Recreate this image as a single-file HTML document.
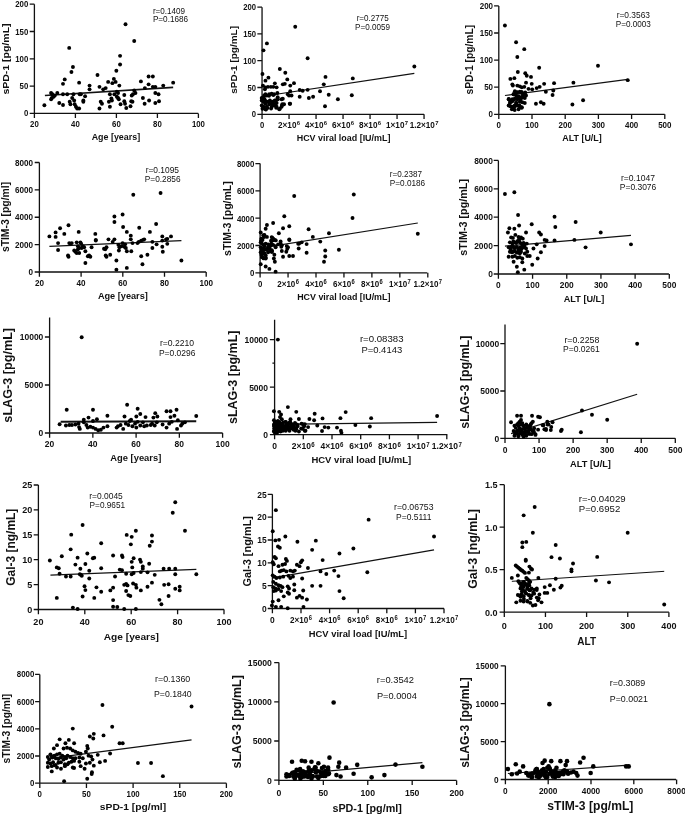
<!DOCTYPE html><html><head><meta charset="utf-8"><style>html,body{margin:0;padding:0;background:#fff;width:685px;height:815px;overflow:hidden}svg{display:block;will-change:transform;filter:blur(0.3px)}text{font-family:"Liberation Sans", sans-serif}.t{font-weight:bold;fill:#111}.s{fill:#111}</style></head><body>
<svg width="685" height="815" viewBox="0 0 685 815">
<rect width="685" height="815" fill="#fff"/>
<g><path d="M34.4 4.2V113.4H198.3" fill="none" stroke="#111" stroke-width="1.3"/><path d="M34.4 113.4v4.7M75.4 113.4v4.7M116.4 113.4v4.7M157.4 113.4v4.7M198.4 113.4v4.7M34.4 113.4h-4.7M34.4 86.1h-4.7M34.4 58.8h-4.7M34.4 31.5h-4.7M34.4 4.2h-4.7" stroke="#111" stroke-width="1.3"/><text class="t" transform="translate(34.4 127) scale(0.93 1)" font-size="8.4" text-anchor="middle">20</text><text class="t" transform="translate(75.4 127) scale(0.93 1)" font-size="8.4" text-anchor="middle">40</text><text class="t" transform="translate(116.4 127) scale(0.93 1)" font-size="8.4" text-anchor="middle">60</text><text class="t" transform="translate(157.4 127) scale(0.93 1)" font-size="8.4" text-anchor="middle">80</text><text class="t" transform="translate(198.4 127) scale(0.93 1)" font-size="8.4" text-anchor="middle">100</text><text class="t" transform="translate(28.25 116.41) scale(0.93 1)" font-size="8.4" text-anchor="end">0</text><text class="t" transform="translate(28.25 89.11) scale(0.93 1)" font-size="8.4" text-anchor="end">50</text><text class="t" transform="translate(28.25 61.81) scale(0.93 1)" font-size="8.4" text-anchor="end">100</text><text class="t" transform="translate(28.25 34.51) scale(0.93 1)" font-size="8.4" text-anchor="end">150</text><text class="t" transform="translate(28.25 7.21) scale(0.93 1)" font-size="8.4" text-anchor="end">200</text><text class="t" x="115.9" y="140.1" font-size="9.3" text-anchor="middle" textLength="48.4" lengthAdjust="spacingAndGlyphs">Age [years]</text><text class="t" transform="translate(8.95 59) rotate(-90)" x="0" y="0" font-size="9.6" text-anchor="middle" textLength="71.2" lengthAdjust="spacingAndGlyphs">sPD-1 [pg/mL]</text><text class="s" x="152.9" y="13.5" font-size="8.75" textLength="32.1" lengthAdjust="spacingAndGlyphs">r=0.1409</text><text class="s" x="152.9" y="22.3" font-size="8.75" textLength="35.2" lengthAdjust="spacingAndGlyphs">P=0.1686</text><line x1="44.89" y1="95.53" x2="173.18" y2="87.34" stroke="#111" stroke-width="1.6"/><g fill="#000"><circle cx="44.39" cy="105.21" r="1.95"/><circle cx="51.09" cy="93.05" r="1.95"/><circle cx="52.33" cy="94.29" r="1.95"/><circle cx="53.57" cy="96.77" r="1.95"/><circle cx="51.09" cy="99.26" r="1.95"/><circle cx="54.81" cy="95.53" r="1.95"/><circle cx="51.84" cy="98.01" r="1.95"/><circle cx="57.3" cy="93.05" r="1.95"/><circle cx="59.28" cy="102.98" r="1.95"/><circle cx="63" cy="104.96" r="1.95"/><circle cx="63" cy="94.29" r="1.95"/><circle cx="67.22" cy="94.29" r="1.95"/><circle cx="63" cy="83.87" r="1.95"/><circle cx="64.74" cy="79.4" r="1.95"/><circle cx="69.21" cy="47.89" r="1.95"/><circle cx="71.44" cy="71.96" r="1.95"/><circle cx="72.93" cy="67" r="1.95"/><circle cx="69.7" cy="101.74" r="1.95"/><circle cx="70.45" cy="104.22" r="1.95"/><circle cx="72.18" cy="98.01" r="1.95"/><circle cx="73.42" cy="94.29" r="1.95"/><circle cx="74.17" cy="100.5" r="1.95"/><circle cx="74.67" cy="104.22" r="1.95"/><circle cx="75.91" cy="106.7" r="1.95"/><circle cx="77.15" cy="108.44" r="1.95"/><circle cx="79.13" cy="108.44" r="1.95"/><circle cx="79.63" cy="94.29" r="1.95"/><circle cx="79.13" cy="82.63" r="1.95"/><circle cx="80.87" cy="94.29" r="1.95"/><circle cx="83.35" cy="100.5" r="1.95"/><circle cx="83.35" cy="101.74" r="1.95"/><circle cx="85.09" cy="96.28" r="1.95"/><circle cx="89.55" cy="85.61" r="1.95"/><circle cx="89.55" cy="89.33" r="1.95"/><circle cx="97.49" cy="74.94" r="1.95"/><circle cx="99.48" cy="86.85" r="1.95"/><circle cx="99.48" cy="108.44" r="1.95"/><circle cx="100.72" cy="101.74" r="1.95"/><circle cx="101.96" cy="103.72" r="1.95"/><circle cx="103.2" cy="89.33" r="1.95"/><circle cx="105.68" cy="88.09" r="1.95"/><circle cx="108.16" cy="81.89" r="1.95"/><circle cx="108.91" cy="101.74" r="1.95"/><circle cx="109.9" cy="106.7" r="1.95"/><circle cx="109.9" cy="94.29" r="1.95"/><circle cx="111.39" cy="98.51" r="1.95"/><circle cx="111.89" cy="100.5" r="1.95"/><circle cx="112.38" cy="83.13" r="1.95"/><circle cx="113.87" cy="78.91" r="1.95"/><circle cx="114.37" cy="94.29" r="1.95"/><circle cx="115.61" cy="81.89" r="1.95"/><circle cx="116.35" cy="70.72" r="1.95"/><circle cx="116.85" cy="91.81" r="1.95"/><circle cx="118.09" cy="93.05" r="1.95"/><circle cx="116.85" cy="96.77" r="1.95"/><circle cx="118.09" cy="98.01" r="1.95"/><circle cx="118.83" cy="99.26" r="1.95"/><circle cx="119.33" cy="85.61" r="1.95"/><circle cx="120.07" cy="55.83" r="1.95"/><circle cx="120.07" cy="64.52" r="1.95"/><circle cx="120.57" cy="104.22" r="1.95"/><circle cx="125.53" cy="24.32" r="1.95"/><circle cx="124.29" cy="95.04" r="1.95"/><circle cx="124.29" cy="101.24" r="1.95"/><circle cx="125.04" cy="103.72" r="1.95"/><circle cx="126.28" cy="107.94" r="1.95"/><circle cx="130.5" cy="106.2" r="1.95"/><circle cx="131.24" cy="101.24" r="1.95"/><circle cx="131.74" cy="95.53" r="1.95"/><circle cx="132.48" cy="101.74" r="1.95"/><circle cx="132.98" cy="94.29" r="1.95"/><circle cx="134.22" cy="90.57" r="1.95"/><circle cx="134.22" cy="40.94" r="1.95"/><circle cx="135.46" cy="93.05" r="1.95"/><circle cx="140.92" cy="81.39" r="1.95"/><circle cx="142.9" cy="98.01" r="1.95"/><circle cx="144.64" cy="103.72" r="1.95"/><circle cx="144.89" cy="88.09" r="1.95"/><circle cx="148.61" cy="76.43" r="1.95"/><circle cx="149.11" cy="100.5" r="1.95"/><circle cx="148.61" cy="84.37" r="1.95"/><circle cx="152.83" cy="76.43" r="1.95"/><circle cx="152.83" cy="86.85" r="1.95"/><circle cx="155.31" cy="93.05" r="1.95"/><circle cx="155.31" cy="102.98" r="1.95"/><circle cx="155.31" cy="86.85" r="1.95"/><circle cx="158.54" cy="94.29" r="1.95"/><circle cx="159.03" cy="101.24" r="1.95"/><circle cx="163.25" cy="85.61" r="1.95"/><circle cx="173.18" cy="82.63" r="1.95"/></g></g>
<g><path d="M262.05 7.2V114.3H424.05" fill="none" stroke="#111" stroke-width="1.3"/><path d="M262.05 114.3v4.7M289.05 114.3v4.7M316.05 114.3v4.7M343.05 114.3v4.7M370.05 114.3v4.7M397.05 114.3v4.7M424.05 114.3v4.7M262.05 114.3h-4.7M262.05 87.5h-4.7M262.05 60.7h-4.7M262.05 33.9h-4.7M262.05 7.1h-4.7" stroke="#111" stroke-width="1.3"/><text class="t" transform="translate(262.05 127.7) scale(0.89 1)" font-size="8.61" text-anchor="middle">0</text><text class="t" transform="translate(289.05 127.7) scale(0.95 1)" font-size="8.61" text-anchor="middle">2×10<tspan font-size="6.2" dx="0.4" dy="-2.6">6</tspan></text><text class="t" transform="translate(316.05 127.7) scale(0.95 1)" font-size="8.61" text-anchor="middle">4×10<tspan font-size="6.2" dx="0.4" dy="-2.6">6</tspan></text><text class="t" transform="translate(343.05 127.7) scale(0.95 1)" font-size="8.61" text-anchor="middle">6×10<tspan font-size="6.2" dx="0.4" dy="-2.6">6</tspan></text><text class="t" transform="translate(370.05 127.7) scale(0.95 1)" font-size="8.61" text-anchor="middle">8×10<tspan font-size="6.2" dx="0.4" dy="-2.6">6</tspan></text><text class="t" transform="translate(397.05 127.7) scale(0.95 1)" font-size="8.61" text-anchor="middle">1×10<tspan font-size="6.2" dx="0.4" dy="-2.6">7</tspan></text><text class="t" transform="translate(424.05 127.7) scale(0.95 1)" font-size="8.61" text-anchor="middle">1.2×10<tspan font-size="6.2" dx="0.4" dy="-2.6">7</tspan></text><text class="t" transform="translate(256.05 117.38) scale(0.89 1)" font-size="8.61" text-anchor="end">0</text><text class="t" transform="translate(256.05 90.58) scale(0.89 1)" font-size="8.61" text-anchor="end">50</text><text class="t" transform="translate(256.05 63.78) scale(0.89 1)" font-size="8.61" text-anchor="end">100</text><text class="t" transform="translate(256.05 36.98) scale(0.89 1)" font-size="8.61" text-anchor="end">150</text><text class="t" transform="translate(256.05 10.18) scale(0.89 1)" font-size="8.61" text-anchor="end">200</text><text class="t" x="343.55" y="141" font-size="8.7" text-anchor="middle" textLength="93.7" lengthAdjust="spacingAndGlyphs">HCV viral load [IU/mL]</text><text class="t" transform="translate(237 59.85) rotate(-90)" x="0" y="0" font-size="9.75" text-anchor="middle" textLength="67.7" lengthAdjust="spacingAndGlyphs">sPD-1 [pg/mL]</text><text class="s" x="356.7" y="21" font-size="8.5" textLength="32" lengthAdjust="spacingAndGlyphs">r=0.2775</text><text class="s" x="355.1" y="29.8" font-size="8.5" textLength="34.9" lengthAdjust="spacingAndGlyphs">P=0.0059</text><line x1="261.47" y1="96.53" x2="414.33" y2="73.45" stroke="#111" stroke-width="1.2"/><g fill="#000"><circle cx="295.22" cy="26.8" r="1.95"/><circle cx="266.93" cy="43.42" r="1.95"/><circle cx="263.46" cy="50.37" r="1.95"/><circle cx="307.63" cy="58.31" r="1.95"/><circle cx="414.33" cy="66.5" r="1.95"/><circle cx="279.84" cy="68.98" r="1.95"/><circle cx="285.3" cy="72.7" r="1.95"/><circle cx="262.47" cy="73.95" r="1.95"/><circle cx="268.42" cy="77.67" r="1.95"/><circle cx="265.44" cy="80.65" r="1.95"/><circle cx="287.28" cy="79.4" r="1.95"/><circle cx="325.49" cy="76.92" r="1.95"/><circle cx="352.79" cy="78.41" r="1.95"/><circle cx="293.98" cy="83.13" r="1.95"/><circle cx="282.81" cy="84.37" r="1.95"/><circle cx="284.8" cy="83.87" r="1.95"/><circle cx="290.26" cy="85.61" r="1.95"/><circle cx="274.87" cy="83.37" r="1.95"/><circle cx="262.96" cy="85.61" r="1.95"/><circle cx="265.44" cy="87.34" r="1.95"/><circle cx="267.93" cy="86.85" r="1.95"/><circle cx="270.9" cy="86.85" r="1.95"/><circle cx="273.38" cy="86.85" r="1.95"/><circle cx="276.61" cy="87.34" r="1.95"/><circle cx="323.76" cy="84.37" r="1.95"/><circle cx="299.69" cy="90.07" r="1.95"/><circle cx="302.67" cy="90.82" r="1.95"/><circle cx="307.63" cy="89.83" r="1.95"/><circle cx="320.03" cy="91.32" r="1.95"/><circle cx="290.26" cy="91.32" r="1.95"/><circle cx="287.78" cy="94.29" r="1.95"/><circle cx="289.02" cy="95.53" r="1.95"/><circle cx="291.5" cy="95.53" r="1.95"/><circle cx="328.72" cy="94.79" r="1.95"/><circle cx="351.8" cy="95.29" r="1.95"/><circle cx="299.69" cy="96.77" r="1.95"/><circle cx="308.87" cy="98.01" r="1.95"/><circle cx="313.09" cy="96.77" r="1.95"/><circle cx="337.9" cy="99.26" r="1.95"/><circle cx="325" cy="106.2" r="1.95"/><circle cx="261.72" cy="98.01" r="1.95"/><circle cx="262.96" cy="99.26" r="1.95"/><circle cx="264.2" cy="95.53" r="1.95"/><circle cx="265.44" cy="94.29" r="1.95"/><circle cx="266.68" cy="95.53" r="1.95"/><circle cx="269.17" cy="94.29" r="1.95"/><circle cx="271.65" cy="93.8" r="1.95"/><circle cx="274.13" cy="94.29" r="1.95"/><circle cx="277.35" cy="93.05" r="1.95"/><circle cx="261.72" cy="100.5" r="1.95"/><circle cx="263.46" cy="101.74" r="1.95"/><circle cx="265.44" cy="102.98" r="1.95"/><circle cx="267.93" cy="101.74" r="1.95"/><circle cx="269.91" cy="100.5" r="1.95"/><circle cx="272.39" cy="101.74" r="1.95"/><circle cx="274.87" cy="100.5" r="1.95"/><circle cx="276.61" cy="102.98" r="1.95"/><circle cx="277.85" cy="99.26" r="1.95"/><circle cx="281.57" cy="99.26" r="1.95"/><circle cx="282.32" cy="104.22" r="1.95"/><circle cx="284.05" cy="104.22" r="1.95"/><circle cx="289.76" cy="103.72" r="1.95"/><circle cx="261.72" cy="105.46" r="1.95"/><circle cx="263.46" cy="106.7" r="1.95"/><circle cx="265.44" cy="109.18" r="1.95"/><circle cx="267.43" cy="107.94" r="1.95"/><circle cx="271.65" cy="106.7" r="1.95"/><circle cx="274.13" cy="105.46" r="1.95"/><circle cx="276.61" cy="106.7" r="1.95"/><circle cx="279.84" cy="108.68" r="1.95"/><circle cx="281.57" cy="106.7" r="1.95"/><circle cx="262.47" cy="108.68" r="1.95"/><circle cx="269.17" cy="104.22" r="1.95"/><circle cx="264.9" cy="89.2" r="1.95"/><circle cx="263.8" cy="98" r="1.95"/><circle cx="264.6" cy="99.4" r="1.95"/><circle cx="265.3" cy="100.9" r="1.95"/><circle cx="269" cy="95.8" r="1.95"/><circle cx="273.3" cy="95" r="1.95"/><circle cx="274.8" cy="100.9" r="1.95"/><circle cx="276.2" cy="100.1" r="1.95"/><circle cx="277.7" cy="97.2" r="1.95"/><circle cx="269.7" cy="103.8" r="1.95"/><circle cx="272.6" cy="103.8" r="1.95"/><circle cx="275.5" cy="103.8" r="1.95"/><circle cx="265.3" cy="103.8" r="1.95"/><circle cx="266.8" cy="106.7" r="1.95"/><circle cx="266" cy="109.6" r="1.95"/><circle cx="271.1" cy="108.5" r="1.95"/><circle cx="276.2" cy="107.8" r="1.95"/><circle cx="279.2" cy="109.3" r="1.95"/><circle cx="282.8" cy="98.7" r="1.95"/><circle cx="290.1" cy="103.8" r="1.95"/><circle cx="282.1" cy="105.3" r="1.95"/></g></g>
<g><path d="M498.8 5.9V114.3H664.7" fill="none" stroke="#111" stroke-width="1.3"/><path d="M498.8 114.3v4.7M532 114.3v4.7M565.2 114.3v4.7M598.4 114.3v4.7M631.6 114.3v4.7M664.8 114.3v4.7M498.8 114.3h-4.7M498.8 87.2h-4.7M498.8 60.1h-4.7M498.8 33h-4.7M498.8 5.9h-4.7" stroke="#111" stroke-width="1.3"/><text class="t" transform="translate(498.8 127.8) scale(0.95 1)" font-size="8.4" text-anchor="middle">0</text><text class="t" transform="translate(532 127.8) scale(0.95 1)" font-size="8.4" text-anchor="middle">100</text><text class="t" transform="translate(565.2 127.8) scale(0.95 1)" font-size="8.4" text-anchor="middle">200</text><text class="t" transform="translate(598.4 127.8) scale(0.95 1)" font-size="8.4" text-anchor="middle">300</text><text class="t" transform="translate(631.6 127.8) scale(0.95 1)" font-size="8.4" text-anchor="middle">400</text><text class="t" transform="translate(664.8 127.8) scale(0.95 1)" font-size="8.4" text-anchor="middle">500</text><text class="t" transform="translate(493.05 117.31) scale(0.95 1)" font-size="8.4" text-anchor="end">0</text><text class="t" transform="translate(493.05 90.21) scale(0.95 1)" font-size="8.4" text-anchor="end">50</text><text class="t" transform="translate(493.05 63.11) scale(0.95 1)" font-size="8.4" text-anchor="end">100</text><text class="t" transform="translate(493.05 36.01) scale(0.95 1)" font-size="8.4" text-anchor="end">150</text><text class="t" transform="translate(493.05 8.91) scale(0.95 1)" font-size="8.4" text-anchor="end">200</text><text class="t" x="582" y="141.3" font-size="9" text-anchor="middle" textLength="39.4" lengthAdjust="spacingAndGlyphs">ALT [U/L]</text><text class="t" transform="translate(472.7 59.7) rotate(-90)" x="0" y="0" font-size="10.5" text-anchor="middle" textLength="69.6" lengthAdjust="spacingAndGlyphs">sPD-1 [pg/mL]</text><text class="s" x="616.7" y="17.9" font-size="8.5" textLength="33.3" lengthAdjust="spacingAndGlyphs">r=0.3563</text><text class="s" x="615.8" y="26.8" font-size="8.5" textLength="35.1" lengthAdjust="spacingAndGlyphs">P=0.0003</text><line x1="504.93" y1="95.53" x2="627.75" y2="79.4" stroke="#111" stroke-width="1.2"/><g fill="#000"><circle cx="504.93" cy="25.56" r="1.95"/><circle cx="516.09" cy="42.18" r="1.95"/><circle cx="524.28" cy="49.13" r="1.95"/><circle cx="517.33" cy="57.07" r="1.95"/><circle cx="539.17" cy="67.74" r="1.95"/><circle cx="597.98" cy="65.76" r="1.95"/><circle cx="517.83" cy="71.96" r="1.95"/><circle cx="525.27" cy="73.2" r="1.95"/><circle cx="526.76" cy="75.68" r="1.95"/><circle cx="530.98" cy="76.92" r="1.95"/><circle cx="510.38" cy="78.91" r="1.95"/><circle cx="514.35" cy="78.16" r="1.95"/><circle cx="627.75" cy="80.15" r="1.95"/><circle cx="573.41" cy="82.63" r="1.95"/><circle cx="554.06" cy="83.13" r="1.95"/><circle cx="544.13" cy="83.87" r="1.95"/><circle cx="531.72" cy="83.87" r="1.95"/><circle cx="526.02" cy="82.63" r="1.95"/><circle cx="512.37" cy="84.37" r="1.95"/><circle cx="512.87" cy="85.61" r="1.95"/><circle cx="517.33" cy="85.61" r="1.95"/><circle cx="519.81" cy="86.35" r="1.95"/><circle cx="521.8" cy="87.34" r="1.95"/><circle cx="524.28" cy="86.85" r="1.95"/><circle cx="528.5" cy="88.83" r="1.95"/><circle cx="532.22" cy="89.33" r="1.95"/><circle cx="536.69" cy="88.09" r="1.95"/><circle cx="539.67" cy="86.85" r="1.95"/><circle cx="514.85" cy="91.32" r="1.95"/><circle cx="517.33" cy="92.31" r="1.95"/><circle cx="519.81" cy="91.81" r="1.95"/><circle cx="521.8" cy="93.05" r="1.95"/><circle cx="524.28" cy="93.8" r="1.95"/><circle cx="526.02" cy="95.53" r="1.95"/><circle cx="545.87" cy="91.81" r="1.95"/><circle cx="553.31" cy="90.57" r="1.95"/><circle cx="552.57" cy="95.04" r="1.95"/><circle cx="513.61" cy="94.29" r="1.95"/><circle cx="516.09" cy="95.53" r="1.95"/><circle cx="518.57" cy="96.28" r="1.95"/><circle cx="519.81" cy="97.27" r="1.95"/><circle cx="522.3" cy="97.52" r="1.95"/><circle cx="524.78" cy="98.01" r="1.95"/><circle cx="508.65" cy="99.26" r="1.95"/><circle cx="509.89" cy="100.5" r="1.95"/><circle cx="511.13" cy="101.74" r="1.95"/><circle cx="512.37" cy="99.26" r="1.95"/><circle cx="514.85" cy="98.76" r="1.95"/><circle cx="517.33" cy="99.26" r="1.95"/><circle cx="519.81" cy="101.74" r="1.95"/><circle cx="522.3" cy="102.23" r="1.95"/><circle cx="524.78" cy="102.98" r="1.95"/><circle cx="535.94" cy="103.72" r="1.95"/><circle cx="540.91" cy="102.23" r="1.95"/><circle cx="543.64" cy="103.72" r="1.95"/><circle cx="572.42" cy="104.47" r="1.95"/><circle cx="583.09" cy="100.25" r="1.95"/><circle cx="508.65" cy="105.46" r="1.95"/><circle cx="510.38" cy="106.2" r="1.95"/><circle cx="512.37" cy="106.7" r="1.95"/><circle cx="514.85" cy="106.2" r="1.95"/><circle cx="517.33" cy="105.46" r="1.95"/><circle cx="519.81" cy="106.7" r="1.95"/><circle cx="521.8" cy="107.2" r="1.95"/><circle cx="511.87" cy="109.18" r="1.95"/><circle cx="513.61" cy="108.68" r="1.95"/><circle cx="518.57" cy="109.18" r="1.95"/><circle cx="509.89" cy="102.98" r="1.95"/><circle cx="516.09" cy="102.98" r="1.95"/><circle cx="512.3" cy="101.3" r="1.95"/><circle cx="514.1" cy="99.5" r="1.95"/><circle cx="517.6" cy="98.4" r="1.95"/><circle cx="520.5" cy="99.5" r="1.95"/><circle cx="516.4" cy="103" r="1.95"/><circle cx="514.7" cy="105.4" r="1.95"/><circle cx="512.9" cy="107.7" r="1.95"/><circle cx="519.4" cy="105.4" r="1.95"/><circle cx="521.7" cy="107.7" r="1.95"/><circle cx="514.7" cy="110" r="1.95"/><circle cx="522.9" cy="95.4" r="1.95"/><circle cx="513.5" cy="94.3" r="1.95"/><circle cx="516.4" cy="92.5" r="1.95"/><circle cx="521.7" cy="91.9" r="1.95"/><circle cx="508.8" cy="99" r="1.95"/><circle cx="525.2" cy="92.5" r="1.95"/></g></g>
<g><path d="M39.4 162.5V272H206.1" fill="none" stroke="#111" stroke-width="1.3"/><path d="M39.4 272v4.7M81.1 272v4.7M122.8 272v4.7M164.5 272v4.7M206.2 272v4.7M39.4 272h-4.7M39.4 244.63h-4.7M39.4 217.26h-4.7M39.4 189.89h-4.7M39.4 162.52h-4.7" stroke="#111" stroke-width="1.3"/><text class="t" transform="translate(39.4 286) scale(0.92 1)" font-size="8.82" text-anchor="middle">20</text><text class="t" transform="translate(81.1 286) scale(0.92 1)" font-size="8.82" text-anchor="middle">40</text><text class="t" transform="translate(122.8 286) scale(0.92 1)" font-size="8.82" text-anchor="middle">60</text><text class="t" transform="translate(164.5 286) scale(0.92 1)" font-size="8.82" text-anchor="middle">80</text><text class="t" transform="translate(206.2 286) scale(0.92 1)" font-size="8.82" text-anchor="middle">100</text><text class="t" transform="translate(33.05 275.16) scale(0.92 1)" font-size="8.82" text-anchor="end">0</text><text class="t" transform="translate(33.05 247.79) scale(0.92 1)" font-size="8.82" text-anchor="end">2000</text><text class="t" transform="translate(33.05 220.42) scale(0.92 1)" font-size="8.82" text-anchor="end">4000</text><text class="t" transform="translate(33.05 193.05) scale(0.92 1)" font-size="8.82" text-anchor="end">6000</text><text class="t" transform="translate(33.05 165.68) scale(0.92 1)" font-size="8.82" text-anchor="end">8000</text><text class="t" x="122.85" y="298.9" font-size="8.9" text-anchor="middle" textLength="49.9" lengthAdjust="spacingAndGlyphs">Age [years]</text><text class="t" transform="translate(8.8 217) rotate(-90)" x="0" y="0" font-size="10.5" text-anchor="middle" textLength="70.2" lengthAdjust="spacingAndGlyphs">sTIM-3 [pg/ml]</text><text class="s" x="145.7" y="172.7" font-size="8.5" textLength="33.3" lengthAdjust="spacingAndGlyphs">r=0.1095</text><text class="s" x="144.8" y="181.8" font-size="8.5" textLength="35.8" lengthAdjust="spacingAndGlyphs">P=0.2856</text><line x1="49.41" y1="246.32" x2="181.42" y2="240.61" stroke="#111" stroke-width="1.2"/><g fill="#000"><circle cx="49.41" cy="236.39" r="1.95"/><circle cx="55.61" cy="232.42" r="1.95"/><circle cx="55.61" cy="236.89" r="1.95"/><circle cx="60.08" cy="228.2" r="1.95"/><circle cx="64.3" cy="233.91" r="1.95"/><circle cx="68.51" cy="225.22" r="1.95"/><circle cx="58.09" cy="243.09" r="1.95"/><circle cx="58.09" cy="250.04" r="1.95"/><circle cx="69.26" cy="243.09" r="1.95"/><circle cx="70.5" cy="243.83" r="1.95"/><circle cx="71.74" cy="243.09" r="1.95"/><circle cx="76.7" cy="242.34" r="1.95"/><circle cx="78.69" cy="231.92" r="1.95"/><circle cx="80.42" cy="242.34" r="1.95"/><circle cx="81.17" cy="243.83" r="1.95"/><circle cx="77.94" cy="246.32" r="1.95"/><circle cx="79.18" cy="248.05" r="1.95"/><circle cx="81.67" cy="248.05" r="1.95"/><circle cx="82.91" cy="246.32" r="1.95"/><circle cx="84.15" cy="247.31" r="1.95"/><circle cx="74.22" cy="250.53" r="1.95"/><circle cx="75.46" cy="251.77" r="1.95"/><circle cx="76.7" cy="253.01" r="1.95"/><circle cx="77.94" cy="249.29" r="1.95"/><circle cx="79.18" cy="253.01" r="1.95"/><circle cx="68.02" cy="255.5" r="1.95"/><circle cx="68.51" cy="256.74" r="1.95"/><circle cx="85.39" cy="262.94" r="1.95"/><circle cx="85.39" cy="251.28" r="1.95"/><circle cx="87.87" cy="256.24" r="1.95"/><circle cx="89.11" cy="255.5" r="1.95"/><circle cx="90.35" cy="256.74" r="1.95"/><circle cx="91.59" cy="247.31" r="1.95"/><circle cx="95.31" cy="233.91" r="1.95"/><circle cx="95.81" cy="239.86" r="1.95"/><circle cx="95.81" cy="240.61" r="1.95"/><circle cx="104" cy="248.8" r="1.95"/><circle cx="105.24" cy="249.29" r="1.95"/><circle cx="105.73" cy="255.5" r="1.95"/><circle cx="106.48" cy="256.74" r="1.95"/><circle cx="106.48" cy="247.31" r="1.95"/><circle cx="108.46" cy="239.37" r="1.95"/><circle cx="110.2" cy="254.75" r="1.95"/><circle cx="112.68" cy="241.85" r="1.95"/><circle cx="114.42" cy="239.37" r="1.95"/><circle cx="114.42" cy="216.54" r="1.95"/><circle cx="114.42" cy="222" r="1.95"/><circle cx="116.4" cy="260.46" r="1.95"/><circle cx="116.4" cy="269.64" r="1.95"/><circle cx="118.39" cy="244.83" r="1.95"/><circle cx="119.38" cy="247.31" r="1.95"/><circle cx="118.89" cy="250.53" r="1.95"/><circle cx="121.37" cy="246.32" r="1.95"/><circle cx="122.61" cy="243.09" r="1.95"/><circle cx="122.61" cy="214.55" r="1.95"/><circle cx="123.1" cy="226.96" r="1.95"/><circle cx="124.34" cy="246.81" r="1.95"/><circle cx="125.09" cy="244.33" r="1.95"/><circle cx="125.83" cy="248.05" r="1.95"/><circle cx="126.83" cy="231.92" r="1.95"/><circle cx="126.83" cy="251.28" r="1.95"/><circle cx="126.83" cy="267.9" r="1.95"/><circle cx="130.8" cy="239.37" r="1.95"/><circle cx="130.8" cy="235.65" r="1.95"/><circle cx="131.29" cy="251.28" r="1.95"/><circle cx="132.53" cy="243.09" r="1.95"/><circle cx="133.28" cy="194.7" r="1.95"/><circle cx="137.5" cy="243.09" r="1.95"/><circle cx="138.74" cy="241.85" r="1.95"/><circle cx="139.23" cy="227.7" r="1.95"/><circle cx="141.22" cy="240.61" r="1.95"/><circle cx="141.22" cy="256.24" r="1.95"/><circle cx="142.46" cy="264.18" r="1.95"/><circle cx="143.2" cy="239.86" r="1.95"/><circle cx="144.2" cy="239.37" r="1.95"/><circle cx="147.42" cy="254.75" r="1.95"/><circle cx="149.9" cy="231.92" r="1.95"/><circle cx="152.38" cy="248.05" r="1.95"/><circle cx="152.38" cy="241.85" r="1.95"/><circle cx="156.11" cy="223.98" r="1.95"/><circle cx="156.6" cy="244.33" r="1.95"/><circle cx="160.57" cy="192.97" r="1.95"/><circle cx="162.31" cy="236.39" r="1.95"/><circle cx="162.31" cy="240.61" r="1.95"/><circle cx="162.31" cy="246.81" r="1.95"/><circle cx="162.81" cy="251.77" r="1.95"/><circle cx="166.03" cy="239.37" r="1.95"/><circle cx="167.27" cy="238.87" r="1.95"/><circle cx="167.27" cy="243.83" r="1.95"/><circle cx="171" cy="236.39" r="1.95"/><circle cx="181.42" cy="260.46" r="1.95"/></g></g>
<g><path d="M260.1 163.6V272.8H427.2" fill="none" stroke="#111" stroke-width="1.3"/><path d="M260.1 272.8v4.7M288.05 272.8v4.7M316 272.8v4.7M343.95 272.8v4.7M371.9 272.8v4.7M399.85 272.8v4.7M427.8 272.8v4.7M260.1 272.8h-4.7M260.1 245.5h-4.7M260.1 218.2h-4.7M260.1 190.9h-4.7M260.1 163.6h-4.7" stroke="#111" stroke-width="1.3"/><text class="t" transform="translate(260.1 286.8) scale(0.84 1)" font-size="9.35" text-anchor="middle">0</text><text class="t" transform="translate(288.05 286.8) scale(0.86 1)" font-size="9.35" text-anchor="middle">2×10<tspan font-size="6.73" dx="0.4" dy="-2.6">6</tspan></text><text class="t" transform="translate(316 286.8) scale(0.86 1)" font-size="9.35" text-anchor="middle">4×10<tspan font-size="6.73" dx="0.4" dy="-2.6">6</tspan></text><text class="t" transform="translate(343.95 286.8) scale(0.86 1)" font-size="9.35" text-anchor="middle">6×10<tspan font-size="6.73" dx="0.4" dy="-2.6">6</tspan></text><text class="t" transform="translate(371.9 286.8) scale(0.86 1)" font-size="9.35" text-anchor="middle">8×10<tspan font-size="6.73" dx="0.4" dy="-2.6">6</tspan></text><text class="t" transform="translate(399.85 286.8) scale(0.86 1)" font-size="9.35" text-anchor="middle">1×10<tspan font-size="6.73" dx="0.4" dy="-2.6">7</tspan></text><text class="t" transform="translate(427.8 286.8) scale(0.86 1)" font-size="9.35" text-anchor="middle">1.2×10<tspan font-size="6.73" dx="0.4" dy="-2.6">7</tspan></text><text class="t" transform="translate(254.35 276.15) scale(0.84 1)" font-size="9.35" text-anchor="end">0</text><text class="t" transform="translate(254.35 248.85) scale(0.84 1)" font-size="9.35" text-anchor="end">2000</text><text class="t" transform="translate(254.35 221.55) scale(0.84 1)" font-size="9.35" text-anchor="end">4000</text><text class="t" transform="translate(254.35 194.25) scale(0.84 1)" font-size="9.35" text-anchor="end">6000</text><text class="t" transform="translate(254.35 166.95) scale(0.84 1)" font-size="9.35" text-anchor="end">8000</text><text class="t" x="343.8" y="300.1" font-size="8.9" text-anchor="middle" textLength="93.2" lengthAdjust="spacingAndGlyphs">HCV viral load [IU/mL]</text><text class="t" transform="translate(230.7 218.6) rotate(-90)" x="0" y="0" font-size="10.5" text-anchor="middle" textLength="74.6" lengthAdjust="spacingAndGlyphs">sTIM-3 [pg/mL]</text><text class="s" x="389.8" y="176.6" font-size="8.5" textLength="32.2" lengthAdjust="spacingAndGlyphs">r=0.2387</text><text class="s" x="389.8" y="185.8" font-size="8.5" textLength="35.4" lengthAdjust="spacingAndGlyphs">P=0.0186</text><line x1="259.98" y1="248.07" x2="417.79" y2="223.01" stroke="#111" stroke-width="1.2"/><g fill="#000"><circle cx="294.22" cy="195.97" r="1.95"/><circle cx="353.77" cy="194.48" r="1.95"/><circle cx="352.53" cy="218.05" r="1.95"/><circle cx="284.3" cy="216.31" r="1.95"/><circle cx="417.79" cy="233.68" r="1.95"/><circle cx="266.93" cy="225" r="1.95"/><circle cx="273.13" cy="223.01" r="1.95"/><circle cx="289.26" cy="226.24" r="1.95"/><circle cx="283.05" cy="228.22" r="1.95"/><circle cx="265.68" cy="228.72" r="1.95"/><circle cx="308.61" cy="229.22" r="1.95"/><circle cx="278.84" cy="233.19" r="1.95"/><circle cx="328.96" cy="233.19" r="1.95"/><circle cx="260.72" cy="232.44" r="1.95"/><circle cx="264.44" cy="234.92" r="1.95"/><circle cx="266.93" cy="236.91" r="1.95"/><circle cx="312.83" cy="236.91" r="1.95"/><circle cx="289.26" cy="239.39" r="1.95"/><circle cx="272.38" cy="237.9" r="1.95"/><circle cx="274.87" cy="239.89" r="1.95"/><circle cx="320.28" cy="241.62" r="1.95"/><circle cx="301.67" cy="242.37" r="1.95"/><circle cx="299.18" cy="243.61" r="1.95"/><circle cx="306.63" cy="244.1" r="1.95"/><circle cx="260.72" cy="242.37" r="1.95"/><circle cx="261.96" cy="243.61" r="1.95"/><circle cx="263.2" cy="244.85" r="1.95"/><circle cx="264.44" cy="246.09" r="1.95"/><circle cx="265.68" cy="243.61" r="1.95"/><circle cx="268.17" cy="244.35" r="1.95"/><circle cx="269.9" cy="245.34" r="1.95"/><circle cx="271.39" cy="243.61" r="1.95"/><circle cx="273.13" cy="244.85" r="1.95"/><circle cx="275.61" cy="246.09" r="1.95"/><circle cx="278.09" cy="244.35" r="1.95"/><circle cx="280.57" cy="243.61" r="1.95"/><circle cx="281.81" cy="245.34" r="1.95"/><circle cx="286.78" cy="246.09" r="1.95"/><circle cx="288.02" cy="247.33" r="1.95"/><circle cx="260.72" cy="247.33" r="1.95"/><circle cx="262.46" cy="248.57" r="1.95"/><circle cx="264.44" cy="249.32" r="1.95"/><circle cx="266.93" cy="249.81" r="1.95"/><circle cx="269.41" cy="248.57" r="1.95"/><circle cx="271.89" cy="250.31" r="1.95"/><circle cx="275.61" cy="247.33" r="1.95"/><circle cx="281.81" cy="251.05" r="1.95"/><circle cx="286.28" cy="251.8" r="1.95"/><circle cx="298.69" cy="248.57" r="1.95"/><circle cx="325.24" cy="250.56" r="1.95"/><circle cx="338.89" cy="249.81" r="1.95"/><circle cx="306.63" cy="252.79" r="1.95"/><circle cx="260.72" cy="252.29" r="1.95"/><circle cx="263.2" cy="253.53" r="1.95"/><circle cx="265.68" cy="255.27" r="1.95"/><circle cx="268.17" cy="252.29" r="1.95"/><circle cx="271.89" cy="251.8" r="1.95"/><circle cx="274.37" cy="254.77" r="1.95"/><circle cx="283.05" cy="256.76" r="1.95"/><circle cx="289.26" cy="256.01" r="1.95"/><circle cx="292.98" cy="256.01" r="1.95"/><circle cx="325.24" cy="256.51" r="1.95"/><circle cx="324" cy="261.72" r="1.95"/><circle cx="261.96" cy="257.26" r="1.95"/><circle cx="265.68" cy="258.5" r="1.95"/><circle cx="273.87" cy="258.5" r="1.95"/><circle cx="274.87" cy="261.72" r="1.95"/><circle cx="260.72" cy="264.2" r="1.95"/><circle cx="265.68" cy="266.44" r="1.95"/><circle cx="269.41" cy="268.92" r="1.95"/><circle cx="275.61" cy="271.65" r="1.95"/><circle cx="263.3" cy="235.3" r="1.95"/><circle cx="264" cy="237.1" r="1.95"/><circle cx="261.4" cy="238.6" r="1.95"/><circle cx="261" cy="240.8" r="1.95"/><circle cx="262.5" cy="240" r="1.95"/><circle cx="271.7" cy="237.1" r="1.95"/><circle cx="273.2" cy="238.6" r="1.95"/><circle cx="271" cy="240.8" r="1.95"/><circle cx="272.8" cy="240.4" r="1.95"/><circle cx="275.8" cy="240.4" r="1.95"/><circle cx="280.6" cy="241.5" r="1.95"/><circle cx="281.3" cy="246.7" r="1.95"/><circle cx="261.4" cy="249.6" r="1.95"/><circle cx="262.9" cy="251.8" r="1.95"/><circle cx="264.4" cy="253.3" r="1.95"/><circle cx="261.4" cy="254.8" r="1.95"/><circle cx="262.2" cy="257" r="1.95"/><circle cx="263.6" cy="258.4" r="1.95"/><circle cx="265.8" cy="257.7" r="1.95"/><circle cx="266.6" cy="249.6" r="1.95"/><circle cx="268" cy="247.4" r="1.95"/><circle cx="270.3" cy="250.3" r="1.95"/><circle cx="271.7" cy="251.8" r="1.95"/><circle cx="270.3" cy="245.9" r="1.95"/><circle cx="289.4" cy="240" r="1.95"/><circle cx="287.2" cy="248.9" r="1.95"/><circle cx="298.2" cy="243.7" r="1.95"/></g></g>
<g><path d="M498.4 160.4V274H668.9" fill="none" stroke="#111" stroke-width="1.3"/><path d="M498.4 274v4.7M532.58 274v4.7M566.76 274v4.7M600.94 274v4.7M635.12 274v4.7M669.3 274v4.7M498.4 274h-4.7M498.4 245.6h-4.7M498.4 217.2h-4.7M498.4 188.8h-4.7M498.4 160.4h-4.7" stroke="#111" stroke-width="1.3"/><text class="t" transform="translate(498.4 288.05) scale(0.94 1)" font-size="8.93" text-anchor="middle">0</text><text class="t" transform="translate(532.58 288.05) scale(0.94 1)" font-size="8.93" text-anchor="middle">100</text><text class="t" transform="translate(566.76 288.05) scale(0.94 1)" font-size="8.93" text-anchor="middle">200</text><text class="t" transform="translate(600.94 288.05) scale(0.94 1)" font-size="8.93" text-anchor="middle">300</text><text class="t" transform="translate(635.12 288.05) scale(0.94 1)" font-size="8.93" text-anchor="middle">400</text><text class="t" transform="translate(669.3 288.05) scale(0.94 1)" font-size="8.93" text-anchor="middle">500</text><text class="t" transform="translate(492.85 277.2) scale(0.94 1)" font-size="8.93" text-anchor="end">0</text><text class="t" transform="translate(492.85 248.8) scale(0.94 1)" font-size="8.93" text-anchor="end">2000</text><text class="t" transform="translate(492.85 220.4) scale(0.94 1)" font-size="8.93" text-anchor="end">4000</text><text class="t" transform="translate(492.85 192) scale(0.94 1)" font-size="8.93" text-anchor="end">6000</text><text class="t" transform="translate(492.85 163.6) scale(0.94 1)" font-size="8.93" text-anchor="end">8000</text><text class="t" x="584" y="301.8" font-size="9.3" text-anchor="middle" textLength="40.5" lengthAdjust="spacingAndGlyphs">ALT [U/L]</text><text class="t" transform="translate(466.5 217.3) rotate(-90)" x="0" y="0" font-size="10.8" text-anchor="middle" textLength="76.7" lengthAdjust="spacingAndGlyphs">sTIM-3 [pg/mL]</text><text class="s" x="621" y="180.8" font-size="8.6" textLength="34" lengthAdjust="spacingAndGlyphs">r=0.1047</text><text class="s" x="619.8" y="190.3" font-size="8.6" textLength="36.5" lengthAdjust="spacingAndGlyphs">P=0.3076</text><line x1="504.93" y1="246.09" x2="630.98" y2="235.42" stroke="#111" stroke-width="1.2"/><g fill="#000"><circle cx="504.93" cy="193.98" r="1.95"/><circle cx="514.35" cy="192.24" r="1.95"/><circle cx="518.08" cy="215.07" r="1.95"/><circle cx="554.55" cy="216.81" r="1.95"/><circle cx="575.65" cy="222.02" r="1.95"/><circle cx="531.72" cy="224.25" r="1.95"/><circle cx="519.07" cy="225.49" r="1.95"/><circle cx="555.3" cy="226.98" r="1.95"/><circle cx="509.39" cy="228.22" r="1.95"/><circle cx="514.35" cy="228.72" r="1.95"/><circle cx="507.9" cy="232.44" r="1.95"/><circle cx="526.02" cy="232.44" r="1.95"/><circle cx="539.17" cy="232.44" r="1.95"/><circle cx="540.91" cy="234.43" r="1.95"/><circle cx="600.71" cy="232.44" r="1.95"/><circle cx="511.13" cy="237.4" r="1.95"/><circle cx="512.87" cy="237.9" r="1.95"/><circle cx="515.35" cy="234.92" r="1.95"/><circle cx="518.57" cy="236.91" r="1.95"/><circle cx="521.05" cy="237.4" r="1.95"/><circle cx="522.79" cy="238.65" r="1.95"/><circle cx="544.63" cy="239.89" r="1.95"/><circle cx="546.61" cy="240.38" r="1.95"/><circle cx="554.55" cy="240.38" r="1.95"/><circle cx="574.4" cy="239.89" r="1.95"/><circle cx="509.89" cy="242.37" r="1.95"/><circle cx="512.37" cy="243.61" r="1.95"/><circle cx="514.85" cy="242.37" r="1.95"/><circle cx="517.33" cy="241.13" r="1.95"/><circle cx="519.81" cy="242.37" r="1.95"/><circle cx="522.3" cy="243.61" r="1.95"/><circle cx="524.78" cy="244.35" r="1.95"/><circle cx="526.76" cy="243.61" r="1.95"/><circle cx="536.69" cy="244.35" r="1.95"/><circle cx="630.98" cy="244.35" r="1.95"/><circle cx="508.65" cy="247.33" r="1.95"/><circle cx="510.38" cy="248.57" r="1.95"/><circle cx="512.87" cy="246.83" r="1.95"/><circle cx="514.85" cy="247.83" r="1.95"/><circle cx="516.84" cy="246.83" r="1.95"/><circle cx="518.57" cy="248.57" r="1.95"/><circle cx="520.31" cy="247.33" r="1.95"/><circle cx="522.3" cy="247.83" r="1.95"/><circle cx="524.28" cy="246.83" r="1.95"/><circle cx="526.02" cy="248.57" r="1.95"/><circle cx="533.46" cy="248.57" r="1.95"/><circle cx="544.63" cy="246.09" r="1.95"/><circle cx="585.57" cy="247.33" r="1.95"/><circle cx="509.89" cy="251.8" r="1.95"/><circle cx="511.87" cy="252.29" r="1.95"/><circle cx="514.35" cy="251.05" r="1.95"/><circle cx="516.84" cy="252.29" r="1.95"/><circle cx="518.57" cy="252.79" r="1.95"/><circle cx="521.05" cy="251.8" r="1.95"/><circle cx="524.78" cy="253.53" r="1.95"/><circle cx="527.26" cy="251.8" r="1.95"/><circle cx="540.91" cy="252.29" r="1.95"/><circle cx="508.65" cy="256.76" r="1.95"/><circle cx="512.37" cy="256.76" r="1.95"/><circle cx="514.85" cy="256.01" r="1.95"/><circle cx="517.33" cy="257.75" r="1.95"/><circle cx="519.81" cy="257.26" r="1.95"/><circle cx="522.3" cy="258.5" r="1.95"/><circle cx="527.26" cy="256.01" r="1.95"/><circle cx="529.74" cy="256.01" r="1.95"/><circle cx="537.68" cy="258.5" r="1.95"/><circle cx="513.61" cy="261.72" r="1.95"/><circle cx="522.3" cy="262.22" r="1.95"/><circle cx="532.22" cy="264.7" r="1.95"/><circle cx="516.84" cy="266.68" r="1.95"/><circle cx="524.28" cy="269.66" r="1.95"/><circle cx="517.83" cy="272.14" r="1.95"/><circle cx="513.3" cy="241.5" r="1.95"/><circle cx="516.2" cy="243" r="1.95"/><circle cx="519.1" cy="241.5" r="1.95"/><circle cx="522.1" cy="244.5" r="1.95"/><circle cx="524.3" cy="246.7" r="1.95"/><circle cx="511.8" cy="246.7" r="1.95"/><circle cx="514.7" cy="248.1" r="1.95"/><circle cx="518.4" cy="249.6" r="1.95"/><circle cx="521.4" cy="248.9" r="1.95"/><circle cx="513.3" cy="251.8" r="1.95"/><circle cx="516.9" cy="252.6" r="1.95"/><circle cx="519.9" cy="253.3" r="1.95"/><circle cx="511" cy="250.3" r="1.95"/><circle cx="523.6" cy="243" r="1.95"/><circle cx="519.1" cy="239.3" r="1.95"/></g></g>
<g><path d="M49.6 317.5V433H222.6" fill="none" stroke="#111" stroke-width="1.3"/><path d="M49.6 433v4.7M92.85 433v4.7M136.1 433v4.7M179.35 433v4.7M222.6 433v4.7M49.6 433h-4.7M49.6 385h-4.7M49.6 337h-4.7" stroke="#111" stroke-width="1.3"/><text class="t" transform="translate(49.6 447.4) scale(0.91 1)" font-size="9.35" text-anchor="middle">20</text><text class="t" transform="translate(92.85 447.4) scale(0.91 1)" font-size="9.35" text-anchor="middle">40</text><text class="t" transform="translate(136.1 447.4) scale(0.91 1)" font-size="9.35" text-anchor="middle">60</text><text class="t" transform="translate(179.35 447.4) scale(0.91 1)" font-size="9.35" text-anchor="middle">80</text><text class="t" transform="translate(222.6 447.4) scale(0.91 1)" font-size="9.35" text-anchor="middle">100</text><text class="t" transform="translate(43.35 436.35) scale(0.91 1)" font-size="9.35" text-anchor="end">0</text><text class="t" transform="translate(43.35 388.35) scale(0.91 1)" font-size="9.35" text-anchor="end">5000</text><text class="t" transform="translate(43.35 340.35) scale(0.91 1)" font-size="9.35" text-anchor="end">10000</text><text class="t" x="135.8" y="461" font-size="9" text-anchor="middle" textLength="51" lengthAdjust="spacingAndGlyphs">Age [years]</text><text class="t" transform="translate(12.3 375.3) rotate(-90)" x="0" y="0" font-size="12.9" text-anchor="middle" textLength="94.7" lengthAdjust="spacingAndGlyphs">sLAG-3 [pg/mL]</text><text class="s" x="159.9" y="346.2" font-size="9.3" textLength="34.2" lengthAdjust="spacingAndGlyphs">r=0.2210</text><text class="s" x="158.9" y="355.7" font-size="9.3" textLength="36.5" lengthAdjust="spacingAndGlyphs">P=0.0296</text><line x1="60.66" y1="421.83" x2="196.24" y2="421.3" stroke="#111" stroke-width="2.0"/><g fill="#000"><circle cx="81.68" cy="337.22" r="1.95"/><circle cx="127.14" cy="404.75" r="1.95"/><circle cx="66.71" cy="409.74" r="1.95"/><circle cx="92.98" cy="409.74" r="1.95"/><circle cx="137.65" cy="408.69" r="1.95"/><circle cx="166.55" cy="411.32" r="1.95"/><circle cx="170.49" cy="411.32" r="1.95"/><circle cx="176.53" cy="409.74" r="1.95"/><circle cx="107.43" cy="415.78" r="1.95"/><circle cx="124.51" cy="416.57" r="1.95"/><circle cx="196.24" cy="416.05" r="1.95"/><circle cx="88.51" cy="417.62" r="1.95"/><circle cx="96.92" cy="419.2" r="1.95"/><circle cx="136.33" cy="416.57" r="1.95"/><circle cx="145.53" cy="417.1" r="1.95"/><circle cx="140.27" cy="413.94" r="1.95"/><circle cx="155.25" cy="413.16" r="1.95"/><circle cx="157.35" cy="416.57" r="1.95"/><circle cx="153.41" cy="417.62" r="1.95"/><circle cx="170.49" cy="417.1" r="1.95"/><circle cx="174.43" cy="415.78" r="1.95"/><circle cx="177.85" cy="420.25" r="1.95"/><circle cx="59.61" cy="424.19" r="1.95"/><circle cx="65.92" cy="425.5" r="1.95"/><circle cx="69.33" cy="424.98" r="1.95"/><circle cx="71.96" cy="424.98" r="1.95"/><circle cx="75.38" cy="424.45" r="1.95"/><circle cx="79.05" cy="427.08" r="1.95"/><circle cx="79.84" cy="428.92" r="1.95"/><circle cx="83.78" cy="422.35" r="1.95"/><circle cx="86.41" cy="424.98" r="1.95"/><circle cx="87.73" cy="427.61" r="1.95"/><circle cx="90.35" cy="426.82" r="1.95"/><circle cx="92.98" cy="427.61" r="1.95"/><circle cx="95.61" cy="428.92" r="1.95"/><circle cx="98.23" cy="430.23" r="1.95"/><circle cx="100.86" cy="429.71" r="1.95"/><circle cx="103.49" cy="427.61" r="1.95"/><circle cx="107.43" cy="426.29" r="1.95"/><circle cx="116.63" cy="427.61" r="1.95"/><circle cx="117.94" cy="426.29" r="1.95"/><circle cx="120.57" cy="424.98" r="1.95"/><circle cx="123.2" cy="428.92" r="1.95"/><circle cx="125.82" cy="423.67" r="1.95"/><circle cx="128.45" cy="424.98" r="1.95"/><circle cx="129.76" cy="421.04" r="1.95"/><circle cx="131.08" cy="419.72" r="1.95"/><circle cx="132.39" cy="426.29" r="1.95"/><circle cx="135.02" cy="423.67" r="1.95"/><circle cx="136.33" cy="427.61" r="1.95"/><circle cx="137.65" cy="421.83" r="1.95"/><circle cx="140.27" cy="425.5" r="1.95"/><circle cx="142.9" cy="422.35" r="1.95"/><circle cx="144.21" cy="426.29" r="1.95"/><circle cx="146.84" cy="425.5" r="1.95"/><circle cx="150.78" cy="424.98" r="1.95"/><circle cx="152.1" cy="423.67" r="1.95"/><circle cx="154.72" cy="425.5" r="1.95"/><circle cx="156.83" cy="422.35" r="1.95"/><circle cx="162.61" cy="424.45" r="1.95"/><circle cx="166.55" cy="427.61" r="1.95"/><circle cx="169.18" cy="423.67" r="1.95"/><circle cx="171.8" cy="421.83" r="1.95"/><circle cx="177.06" cy="428.92" r="1.95"/><circle cx="181" cy="425.5" r="1.95"/><circle cx="182.31" cy="423.67" r="1.95"/><circle cx="184.94" cy="422.35" r="1.95"/><circle cx="83.78" cy="419.72" r="1.95"/><circle cx="92.98" cy="421.04" r="1.95"/><circle cx="78.53" cy="423.67" r="1.95"/></g></g>
<g><path d="M274.6 319.8V434.6H447.3" fill="none" stroke="#111" stroke-width="1.3"/><path d="M274.6 434.6v4.7M303.3 434.6v4.7M332 434.6v4.7M360.7 434.6v4.7M389.4 434.6v4.7M418.1 434.6v4.7M446.8 434.6v4.7M274.6 434.6h-4.7M274.6 387.15h-4.7M274.6 339.7h-4.7M274.6 410.8h-2.2M274.6 363.2h-2.2" stroke="#111" stroke-width="1.3"/><text class="t" transform="translate(274.6 449.1) scale(0.91 1)" font-size="9.35" text-anchor="middle">0</text><text class="t" transform="translate(303.3 449.1) scale(0.91 1)" font-size="9.35" text-anchor="middle">2×10<tspan font-size="6.73" dx="0.4" dy="-2.6">6</tspan></text><text class="t" transform="translate(332 449.1) scale(0.91 1)" font-size="9.35" text-anchor="middle">4×10<tspan font-size="6.73" dx="0.4" dy="-2.6">6</tspan></text><text class="t" transform="translate(360.7 449.1) scale(0.91 1)" font-size="9.35" text-anchor="middle">6×10<tspan font-size="6.73" dx="0.4" dy="-2.6">6</tspan></text><text class="t" transform="translate(389.4 449.1) scale(0.91 1)" font-size="9.35" text-anchor="middle">8×10<tspan font-size="6.73" dx="0.4" dy="-2.6">6</tspan></text><text class="t" transform="translate(418.1 449.1) scale(0.91 1)" font-size="9.35" text-anchor="middle">1×10<tspan font-size="6.73" dx="0.4" dy="-2.6">7</tspan></text><text class="t" transform="translate(446.8 449.1) scale(0.91 1)" font-size="9.35" text-anchor="middle">1.2×10<tspan font-size="6.73" dx="0.4" dy="-2.6">7</tspan></text><text class="t" transform="translate(268.05 437.95) scale(0.91 1)" font-size="9.35" text-anchor="end">0</text><text class="t" transform="translate(268.05 390.5) scale(0.91 1)" font-size="9.35" text-anchor="end">5000</text><text class="t" transform="translate(268.05 343.05) scale(0.91 1)" font-size="9.35" text-anchor="end">10000</text><text class="t" x="361.3" y="463" font-size="9.45" text-anchor="middle" textLength="99.8" lengthAdjust="spacingAndGlyphs">HCV viral load [IU/mL]</text><text class="t" transform="translate(237.4 377.3) rotate(-90)" x="0" y="0" font-size="12.9" text-anchor="middle" textLength="93.4" lengthAdjust="spacingAndGlyphs">sLAG-3 [pg/mL]</text><text class="s" x="359.9" y="342.2" font-size="9.3" textLength="43.6" lengthAdjust="spacingAndGlyphs">r=0.08383</text><text class="s" x="361.4" y="352.7" font-size="9.3" textLength="40.8" lengthAdjust="spacingAndGlyphs">P=0.4143</text><line x1="273.94" y1="424.45" x2="437.1" y2="422.35" stroke="#111" stroke-width="1.2"/><g fill="#000"><circle cx="277.88" cy="339.59" r="1.95"/><circle cx="287.87" cy="407.11" r="1.95"/><circle cx="273.94" cy="411.32" r="1.95"/><circle cx="279.2" cy="411.84" r="1.95"/><circle cx="281.04" cy="414.47" r="1.95"/><circle cx="296.27" cy="411.84" r="1.95"/><circle cx="314.67" cy="413.68" r="1.95"/><circle cx="345.67" cy="412.11" r="1.95"/><circle cx="279.98" cy="417.1" r="1.95"/><circle cx="281.82" cy="419.2" r="1.95"/><circle cx="290.49" cy="419.2" r="1.95"/><circle cx="298.9" cy="418.94" r="1.95"/><circle cx="309.41" cy="418.94" r="1.95"/><circle cx="314.14" cy="420.25" r="1.95"/><circle cx="322.55" cy="418.41" r="1.95"/><circle cx="340.42" cy="418.15" r="1.95"/><circle cx="371.16" cy="418.15" r="1.95"/><circle cx="437.1" cy="416.05" r="1.95"/><circle cx="273.94" cy="420.25" r="1.95"/><circle cx="275.25" cy="422.35" r="1.95"/><circle cx="277.88" cy="421.04" r="1.95"/><circle cx="280.51" cy="423.67" r="1.95"/><circle cx="283.14" cy="422.35" r="1.95"/><circle cx="285.24" cy="421.83" r="1.95"/><circle cx="287.08" cy="423.67" r="1.95"/><circle cx="289.71" cy="422.35" r="1.95"/><circle cx="292.33" cy="424.45" r="1.95"/><circle cx="294.96" cy="422.88" r="1.95"/><circle cx="297.59" cy="424.98" r="1.95"/><circle cx="301.53" cy="423.67" r="1.95"/><circle cx="304.16" cy="424.98" r="1.95"/><circle cx="273.94" cy="424.98" r="1.95"/><circle cx="275.25" cy="427.61" r="1.95"/><circle cx="277.36" cy="428.92" r="1.95"/><circle cx="279.2" cy="427.08" r="1.95"/><circle cx="281.82" cy="428.92" r="1.95"/><circle cx="284.45" cy="427.61" r="1.95"/><circle cx="287.08" cy="428.92" r="1.95"/><circle cx="291.02" cy="427.61" r="1.95"/><circle cx="293.65" cy="429.71" r="1.95"/><circle cx="296.27" cy="428.92" r="1.95"/><circle cx="298.9" cy="431.55" r="1.95"/><circle cx="302.84" cy="428.92" r="1.95"/><circle cx="305.47" cy="430.76" r="1.95"/><circle cx="308.1" cy="427.08" r="1.95"/><circle cx="317.29" cy="425.5" r="1.95"/><circle cx="324.65" cy="427.08" r="1.95"/><circle cx="328.33" cy="427.61" r="1.95"/><circle cx="337" cy="427.61" r="1.95"/><circle cx="355.39" cy="424.98" r="1.95"/><circle cx="369.84" cy="426.56" r="1.95"/><circle cx="322.02" cy="431.02" r="1.95"/><circle cx="340.94" cy="430.76" r="1.95"/><circle cx="341.47" cy="432.86" r="1.95"/><circle cx="273.94" cy="431.55" r="1.95"/><circle cx="280.51" cy="431.55" r="1.95"/><circle cx="285.76" cy="430.76" r="1.95"/><circle cx="274.9" cy="421.9" r="1.95"/><circle cx="276.4" cy="421.9" r="1.95"/><circle cx="279.3" cy="421.9" r="1.95"/><circle cx="285.9" cy="421.9" r="1.95"/><circle cx="290.2" cy="421.9" r="1.95"/><circle cx="274.2" cy="424.1" r="1.95"/><circle cx="275.6" cy="424.1" r="1.95"/><circle cx="277.8" cy="424.1" r="1.95"/><circle cx="280" cy="424.1" r="1.95"/><circle cx="282.2" cy="424.1" r="1.95"/><circle cx="286.6" cy="424.1" r="1.95"/><circle cx="288.8" cy="424.1" r="1.95"/><circle cx="291.7" cy="424.1" r="1.95"/><circle cx="296.1" cy="424.1" r="1.95"/><circle cx="302.7" cy="424.1" r="1.95"/><circle cx="304.8" cy="424.1" r="1.95"/><circle cx="274.2" cy="426.3" r="1.95"/><circle cx="276.4" cy="426.3" r="1.95"/><circle cx="278.6" cy="426.3" r="1.95"/><circle cx="280.8" cy="426.3" r="1.95"/><circle cx="282.9" cy="426.3" r="1.95"/><circle cx="285.1" cy="426.3" r="1.95"/><circle cx="288.1" cy="426.3" r="1.95"/><circle cx="291" cy="426.3" r="1.95"/><circle cx="293.9" cy="426.3" r="1.95"/><circle cx="297.5" cy="426.3" r="1.95"/><circle cx="304.1" cy="426.3" r="1.95"/><circle cx="274.2" cy="428.5" r="1.95"/><circle cx="275.6" cy="428.5" r="1.95"/><circle cx="277.8" cy="428.5" r="1.95"/><circle cx="280" cy="428.5" r="1.95"/><circle cx="282.2" cy="428.5" r="1.95"/><circle cx="284.4" cy="428.5" r="1.95"/><circle cx="287.3" cy="428.5" r="1.95"/><circle cx="289.5" cy="428.5" r="1.95"/><circle cx="292.4" cy="428.5" r="1.95"/><circle cx="295.4" cy="428.5" r="1.95"/><circle cx="301.2" cy="428.5" r="1.95"/><circle cx="274.2" cy="430.7" r="1.95"/><circle cx="276.4" cy="430.7" r="1.95"/><circle cx="278.6" cy="430.7" r="1.95"/><circle cx="280.8" cy="430.7" r="1.95"/><circle cx="282.9" cy="430.7" r="1.95"/><circle cx="289.5" cy="430.7" r="1.95"/><circle cx="295.4" cy="430.7" r="1.95"/><circle cx="304.8" cy="430.7" r="1.95"/><circle cx="274.9" cy="432.8" r="1.95"/><circle cx="277.1" cy="432.8" r="1.95"/></g></g>
<g><path d="M505 324.5V438.3H675.3" fill="none" stroke="#111" stroke-width="1.3"/><path d="M505 438.3v4.7M539.06 438.3v4.7M573.12 438.3v4.7M607.18 438.3v4.7M641.24 438.3v4.7M675.3 438.3v4.7M505 438.3h-4.7M505 391h-4.7M505 343.7h-4.7" stroke="#111" stroke-width="1.3"/><text class="t" transform="translate(505 452.7) scale(0.91 1)" font-size="9.35" text-anchor="middle">0</text><text class="t" transform="translate(539.06 452.7) scale(0.91 1)" font-size="9.35" text-anchor="middle">100</text><text class="t" transform="translate(573.12 452.7) scale(0.91 1)" font-size="9.35" text-anchor="middle">200</text><text class="t" transform="translate(607.18 452.7) scale(0.91 1)" font-size="9.35" text-anchor="middle">300</text><text class="t" transform="translate(641.24 452.7) scale(0.91 1)" font-size="9.35" text-anchor="middle">400</text><text class="t" transform="translate(675.3 452.7) scale(0.91 1)" font-size="9.35" text-anchor="middle">500</text><text class="t" transform="translate(499.25 441.65) scale(0.91 1)" font-size="9.35" text-anchor="end">0</text><text class="t" transform="translate(499.25 394.35) scale(0.91 1)" font-size="9.35" text-anchor="end">5000</text><text class="t" transform="translate(499.25 347.05) scale(0.91 1)" font-size="9.35" text-anchor="end">10000</text><text class="t" x="590.5" y="466.6" font-size="9.7" text-anchor="middle" textLength="40.9" lengthAdjust="spacingAndGlyphs">ALT [U/L]</text><text class="t" transform="translate(468.6 382.2) rotate(-90)" x="0" y="0" font-size="12.2" text-anchor="middle" textLength="93" lengthAdjust="spacingAndGlyphs">sLAG-3 [pg/mL]</text><text class="s" x="564.4" y="343" font-size="9.3" textLength="34.9" lengthAdjust="spacingAndGlyphs">r=0.2258</text><text class="s" x="563" y="352.2" font-size="9.3" textLength="36.8" lengthAdjust="spacingAndGlyphs">P=0.0261</text><line x1="511.04" y1="433.61" x2="637.15" y2="394.2" stroke="#111" stroke-width="1.2"/><g fill="#000"><circle cx="637.15" cy="343.75" r="1.95"/><circle cx="581.98" cy="410.49" r="1.95"/><circle cx="591.96" cy="414.69" r="1.95"/><circle cx="607.2" cy="419.68" r="1.95"/><circle cx="532.05" cy="415.74" r="1.95"/><circle cx="538.1" cy="416.79" r="1.95"/><circle cx="539.94" cy="417.32" r="1.95"/><circle cx="517.08" cy="415.74" r="1.95"/><circle cx="521.02" cy="415.74" r="1.95"/><circle cx="511.04" cy="422.31" r="1.95"/><circle cx="547.29" cy="421.78" r="1.95"/><circle cx="552.55" cy="422.31" r="1.95"/><circle cx="548.61" cy="424.41" r="1.95"/><circle cx="543.35" cy="425.2" r="1.95"/><circle cx="551.23" cy="427.04" r="1.95"/><circle cx="538.1" cy="429.67" r="1.95"/><circle cx="545.98" cy="428.88" r="1.95"/><circle cx="561.74" cy="429.67" r="1.95"/><circle cx="560.96" cy="430.98" r="1.95"/><circle cx="580.92" cy="432.29" r="1.95"/><circle cx="514.45" cy="425.72" r="1.95"/><circle cx="515.76" cy="427.83" r="1.95"/><circle cx="517.08" cy="424.41" r="1.95"/><circle cx="518.39" cy="423.1" r="1.95"/><circle cx="519.71" cy="421.78" r="1.95"/><circle cx="521.02" cy="419.94" r="1.95"/><circle cx="522.33" cy="423.1" r="1.95"/><circle cx="523.65" cy="425.72" r="1.95"/><circle cx="524.96" cy="427.83" r="1.95"/><circle cx="526.27" cy="424.41" r="1.95"/><circle cx="527.59" cy="427.04" r="1.95"/><circle cx="528.9" cy="428.35" r="1.95"/><circle cx="530.22" cy="425.72" r="1.95"/><circle cx="531.53" cy="423.1" r="1.95"/><circle cx="532.84" cy="421.78" r="1.95"/><circle cx="534.16" cy="428.35" r="1.95"/><circle cx="513.66" cy="430.98" r="1.95"/><circle cx="515.24" cy="433.61" r="1.95"/><circle cx="516.29" cy="432.29" r="1.95"/><circle cx="517.87" cy="430.45" r="1.95"/><circle cx="519.71" cy="433.61" r="1.95"/><circle cx="521.02" cy="430.98" r="1.95"/><circle cx="522.33" cy="434.92" r="1.95"/><circle cx="523.65" cy="432.29" r="1.95"/><circle cx="524.96" cy="433.61" r="1.95"/><circle cx="526.27" cy="431.5" r="1.95"/><circle cx="528.9" cy="433.08" r="1.95"/><circle cx="531.53" cy="434.13" r="1.95"/><circle cx="533.63" cy="430.98" r="1.95"/><circle cx="535.47" cy="434.92" r="1.95"/><circle cx="514.45" cy="435.71" r="1.95"/><circle cx="518.39" cy="436.23" r="1.95"/><circle cx="523.65" cy="436.76" r="1.95"/><circle cx="526.27" cy="435.71" r="1.95"/><circle cx="518.7" cy="426.1" r="1.95"/><circle cx="521.1" cy="424.5" r="1.95"/><circle cx="523.5" cy="426.1" r="1.95"/><circle cx="519.5" cy="428.5" r="1.95"/><circle cx="521.9" cy="429.3" r="1.95"/><circle cx="525.1" cy="428.5" r="1.95"/><circle cx="527.5" cy="427.7" r="1.95"/><circle cx="529.1" cy="426.1" r="1.95"/><circle cx="530.7" cy="424.5" r="1.95"/><circle cx="517" cy="430.9" r="1.95"/><circle cx="521.1" cy="431.7" r="1.95"/><circle cx="525.1" cy="431.7" r="1.95"/><circle cx="528.3" cy="430.9" r="1.95"/><circle cx="530.7" cy="429.3" r="1.95"/><circle cx="532.3" cy="430.9" r="1.95"/><circle cx="533.9" cy="432.5" r="1.95"/><circle cx="535.5" cy="434.1" r="1.95"/><circle cx="515.4" cy="434.1" r="1.95"/><circle cx="518.7" cy="434.1" r="1.95"/><circle cx="522.7" cy="434.1" r="1.95"/><circle cx="525.9" cy="434.9" r="1.95"/><circle cx="529.1" cy="434.1" r="1.95"/><circle cx="542.8" cy="425.3" r="1.95"/><circle cx="544.4" cy="429.3" r="1.95"/><circle cx="546" cy="430.1" r="1.95"/><circle cx="550.8" cy="430.1" r="1.95"/><circle cx="547.6" cy="424.5" r="1.95"/></g></g>
<g><path d="M38.4 485V609.5H224.1" fill="none" stroke="#111" stroke-width="1.3"/><path d="M38.4 609.5v4.7M84.8 609.5v4.7M131.2 609.5v4.7M177.6 609.5v4.7M224 609.5v4.7M38.4 609.5h-4.7M38.4 584.6h-4.7M38.4 559.7h-4.7M38.4 534.8h-4.7M38.4 509.9h-4.7M38.4 485h-4.7" stroke="#111" stroke-width="1.3"/><text class="t" transform="translate(38.4 624.9) scale(0.94 1)" font-size="9.66" text-anchor="middle">20</text><text class="t" transform="translate(84.8 624.9) scale(0.94 1)" font-size="9.66" text-anchor="middle">40</text><text class="t" transform="translate(131.2 624.9) scale(0.94 1)" font-size="9.66" text-anchor="middle">60</text><text class="t" transform="translate(177.6 624.9) scale(0.94 1)" font-size="9.66" text-anchor="middle">80</text><text class="t" transform="translate(224 624.9) scale(0.94 1)" font-size="9.66" text-anchor="middle">100</text><text class="t" transform="translate(32.25 612.96) scale(0.94 1)" font-size="9.66" text-anchor="end">0</text><text class="t" transform="translate(32.25 588.06) scale(0.94 1)" font-size="9.66" text-anchor="end">5</text><text class="t" transform="translate(32.25 563.16) scale(0.94 1)" font-size="9.66" text-anchor="end">10</text><text class="t" transform="translate(32.25 538.26) scale(0.94 1)" font-size="9.66" text-anchor="end">15</text><text class="t" transform="translate(32.25 513.36) scale(0.94 1)" font-size="9.66" text-anchor="end">20</text><text class="t" transform="translate(32.25 488.46) scale(0.94 1)" font-size="9.66" text-anchor="end">25</text><text class="t" x="131.4" y="639.9" font-size="9.9" text-anchor="middle" textLength="55.2" lengthAdjust="spacingAndGlyphs">Age [years]</text><text class="t" transform="translate(14.7 547.2) rotate(-90)" x="0" y="0" font-size="11.9" text-anchor="middle" textLength="77" lengthAdjust="spacingAndGlyphs">Gal-3 [ng/mL]</text><text class="s" x="89.3" y="498.8" font-size="9.2" textLength="33.5" lengthAdjust="spacingAndGlyphs">r=0.0045</text><text class="s" x="89.6" y="508" font-size="9.2" textLength="35.5" lengthAdjust="spacingAndGlyphs">P=0.9651</text><line x1="50.42" y1="575.15" x2="196.33" y2="569.32" stroke="#111" stroke-width="1.2"/><g fill="#000"><circle cx="175.25" cy="502.19" r="1.95"/><circle cx="172.75" cy="512.73" r="1.95"/><circle cx="82.6" cy="524.94" r="1.95"/><circle cx="184.96" cy="530.76" r="1.95"/><circle cx="135.86" cy="530.76" r="1.95"/><circle cx="71.23" cy="534.65" r="1.95"/><circle cx="126.71" cy="534.92" r="1.95"/><circle cx="131.7" cy="536.87" r="1.95"/><circle cx="151.95" cy="535.48" r="1.95"/><circle cx="151.95" cy="541.58" r="1.95"/><circle cx="149.73" cy="545.74" r="1.95"/><circle cx="101.19" cy="543.25" r="1.95"/><circle cx="130.87" cy="544.36" r="1.95"/><circle cx="70.67" cy="549.35" r="1.95"/><circle cx="87.32" cy="553.51" r="1.95"/><circle cx="61.8" cy="556.28" r="1.95"/><circle cx="77.61" cy="557.67" r="1.95"/><circle cx="92.87" cy="558.22" r="1.95"/><circle cx="94.25" cy="557.67" r="1.95"/><circle cx="113.12" cy="555.45" r="1.95"/><circle cx="121.99" cy="555.45" r="1.95"/><circle cx="122.55" cy="557.12" r="1.95"/><circle cx="133.64" cy="558.22" r="1.95"/><circle cx="140.02" cy="559.61" r="1.95"/><circle cx="140.85" cy="561.83" r="1.95"/><circle cx="49.87" cy="560.44" r="1.95"/><circle cx="75.39" cy="564.6" r="1.95"/><circle cx="85.38" cy="564.05" r="1.95"/><circle cx="131.7" cy="561.83" r="1.95"/><circle cx="149.18" cy="563.77" r="1.95"/><circle cx="56.8" cy="567.38" r="1.95"/><circle cx="58.75" cy="568.21" r="1.95"/><circle cx="80.38" cy="568.77" r="1.95"/><circle cx="89.26" cy="570.71" r="1.95"/><circle cx="101.19" cy="568.21" r="1.95"/><circle cx="119.77" cy="569.6" r="1.95"/><circle cx="121.99" cy="570.15" r="1.95"/><circle cx="132.26" cy="567.38" r="1.95"/><circle cx="142.8" cy="566.55" r="1.95"/><circle cx="142.8" cy="568.77" r="1.95"/><circle cx="163.6" cy="568.77" r="1.95"/><circle cx="169.15" cy="568.77" r="1.95"/><circle cx="175.25" cy="568.77" r="1.95"/><circle cx="59.58" cy="573.76" r="1.95"/><circle cx="65.96" cy="576.53" r="1.95"/><circle cx="70.67" cy="576.53" r="1.95"/><circle cx="79.83" cy="574.31" r="1.95"/><circle cx="81.77" cy="575.7" r="1.95"/><circle cx="80.94" cy="574.87" r="1.95"/><circle cx="89.26" cy="578.47" r="1.95"/><circle cx="115.06" cy="576.53" r="1.95"/><circle cx="126.15" cy="573.76" r="1.95"/><circle cx="131.7" cy="574.31" r="1.95"/><circle cx="133.64" cy="572.93" r="1.95"/><circle cx="140.85" cy="572.09" r="1.95"/><circle cx="147.51" cy="572.37" r="1.95"/><circle cx="154.72" cy="574.87" r="1.95"/><circle cx="175.25" cy="574.31" r="1.95"/><circle cx="196.33" cy="574.31" r="1.95"/><circle cx="84.54" cy="586.24" r="1.95"/><circle cx="85.38" cy="590.12" r="1.95"/><circle cx="96.47" cy="587.35" r="1.95"/><circle cx="101.19" cy="591.79" r="1.95"/><circle cx="110.34" cy="590.4" r="1.95"/><circle cx="113.12" cy="587.63" r="1.95"/><circle cx="124.21" cy="584.85" r="1.95"/><circle cx="126.15" cy="584.02" r="1.95"/><circle cx="127.54" cy="585.41" r="1.95"/><circle cx="126.15" cy="590.96" r="1.95"/><circle cx="133.09" cy="583.47" r="1.95"/><circle cx="135.86" cy="584.85" r="1.95"/><circle cx="136.42" cy="587.63" r="1.95"/><circle cx="140.85" cy="590.4" r="1.95"/><circle cx="147.51" cy="586.8" r="1.95"/><circle cx="151.95" cy="582.64" r="1.95"/><circle cx="164.16" cy="584.85" r="1.95"/><circle cx="168.59" cy="584.3" r="1.95"/><circle cx="175.25" cy="588.74" r="1.95"/><circle cx="179.69" cy="586.8" r="1.95"/><circle cx="179.69" cy="590.4" r="1.95"/><circle cx="56.8" cy="597.89" r="1.95"/><circle cx="82.6" cy="596.5" r="1.95"/><circle cx="94.25" cy="597.89" r="1.95"/><circle cx="113.12" cy="600.11" r="1.95"/><circle cx="128.37" cy="595.12" r="1.95"/><circle cx="130.31" cy="595.95" r="1.95"/><circle cx="159.44" cy="599.83" r="1.95"/><circle cx="161.38" cy="604.27" r="1.95"/><circle cx="168.59" cy="595.95" r="1.95"/><circle cx="72.89" cy="607.6" r="1.95"/><circle cx="77.61" cy="608.99" r="1.95"/><circle cx="113.12" cy="606.77" r="1.95"/><circle cx="117.28" cy="607.05" r="1.95"/><circle cx="124.21" cy="608.99" r="1.95"/><circle cx="135.86" cy="608.99" r="1.95"/></g></g>
<g><path d="M272.4 494.3V608.5H444" fill="none" stroke="#111" stroke-width="1.3"/><path d="M272.4 608.5v4.7M301 608.5v4.7M329.6 608.5v4.7M358.2 608.5v4.7M386.8 608.5v4.7M415.4 608.5v4.7M444 608.5v4.7M272.4 608.5h-4.7M272.4 585.66h-4.7M272.4 562.82h-4.7M272.4 539.98h-4.7M272.4 517.14h-4.7M272.4 494.3h-4.7" stroke="#111" stroke-width="1.3"/><text class="t" transform="translate(272.4 622.7) scale(0.95 1)" font-size="8.93" text-anchor="middle">0</text><text class="t" transform="translate(301 622.7) scale(0.91 1)" font-size="8.93" text-anchor="middle">2×10<tspan font-size="6.43" dx="0.4" dy="-2.6">6</tspan></text><text class="t" transform="translate(329.6 622.7) scale(0.91 1)" font-size="8.93" text-anchor="middle">4×10<tspan font-size="6.43" dx="0.4" dy="-2.6">6</tspan></text><text class="t" transform="translate(358.2 622.7) scale(0.91 1)" font-size="8.93" text-anchor="middle">6×10<tspan font-size="6.43" dx="0.4" dy="-2.6">6</tspan></text><text class="t" transform="translate(386.8 622.7) scale(0.91 1)" font-size="8.93" text-anchor="middle">8×10<tspan font-size="6.43" dx="0.4" dy="-2.6">6</tspan></text><text class="t" transform="translate(415.4 622.7) scale(0.91 1)" font-size="8.93" text-anchor="middle">1×10<tspan font-size="6.43" dx="0.4" dy="-2.6">7</tspan></text><text class="t" transform="translate(444 622.7) scale(0.91 1)" font-size="8.93" text-anchor="middle">1.2×10<tspan font-size="6.43" dx="0.4" dy="-2.6">7</tspan></text><text class="t" transform="translate(266.75 611.7) scale(0.95 1)" font-size="8.93" text-anchor="end">0</text><text class="t" transform="translate(266.75 588.86) scale(0.95 1)" font-size="8.93" text-anchor="end">5</text><text class="t" transform="translate(266.75 566.02) scale(0.95 1)" font-size="8.93" text-anchor="end">10</text><text class="t" transform="translate(266.75 543.18) scale(0.95 1)" font-size="8.93" text-anchor="end">15</text><text class="t" transform="translate(266.75 520.34) scale(0.95 1)" font-size="8.93" text-anchor="end">20</text><text class="t" transform="translate(266.75 497.5) scale(0.95 1)" font-size="8.93" text-anchor="end">25</text><text class="t" x="358" y="637" font-size="9.6" text-anchor="middle" textLength="98.4" lengthAdjust="spacingAndGlyphs">HCV viral load [IU/mL]</text><text class="t" transform="translate(250.7 551.3) rotate(-90)" x="0" y="0" font-size="10.8" text-anchor="middle" textLength="70.5" lengthAdjust="spacingAndGlyphs">Gal-3 [ng/mL]</text><text class="s" x="394.1" y="510.2" font-size="9.2" textLength="39.4" lengthAdjust="spacingAndGlyphs">r=0.06753</text><text class="s" x="396" y="520.2" font-size="9.2" textLength="35.4" lengthAdjust="spacingAndGlyphs">P=0.5111</text><line x1="272.73" y1="577.96" x2="434.05" y2="549.85" stroke="#111" stroke-width="1.2"/><g fill="#000"><circle cx="275.88" cy="510.17" r="1.95"/><circle cx="368.63" cy="519.63" r="1.95"/><circle cx="434.05" cy="536.45" r="1.95"/><circle cx="272.73" cy="531.19" r="1.95"/><circle cx="285.34" cy="536.45" r="1.95"/><circle cx="275.36" cy="540.39" r="1.95"/><circle cx="279.04" cy="539.86" r="1.95"/><circle cx="297.43" cy="541.7" r="1.95"/><circle cx="315.82" cy="540.65" r="1.95"/><circle cx="277.98" cy="546.43" r="1.95"/><circle cx="279.82" cy="547.74" r="1.95"/><circle cx="312.14" cy="549.85" r="1.95"/><circle cx="353.39" cy="548.53" r="1.95"/><circle cx="339.47" cy="553.52" r="1.95"/><circle cx="274.57" cy="556.94" r="1.95"/><circle cx="275.88" cy="558.25" r="1.95"/><circle cx="285.87" cy="559.04" r="1.95"/><circle cx="286.92" cy="560.88" r="1.95"/><circle cx="302.16" cy="560.36" r="1.95"/><circle cx="300.84" cy="562.2" r="1.95"/><circle cx="322.65" cy="560.09" r="1.95"/><circle cx="272.73" cy="562.2" r="1.95"/><circle cx="273.78" cy="564.3" r="1.95"/><circle cx="278.51" cy="566.14" r="1.95"/><circle cx="282.45" cy="564.82" r="1.95"/><circle cx="285.08" cy="564.03" r="1.95"/><circle cx="296.9" cy="564.82" r="1.95"/><circle cx="299.53" cy="566.14" r="1.95"/><circle cx="307.94" cy="567.98" r="1.95"/><circle cx="279.82" cy="571.39" r="1.95"/><circle cx="281.66" cy="570.6" r="1.95"/><circle cx="283.76" cy="570.08" r="1.95"/><circle cx="286.39" cy="571.39" r="1.95"/><circle cx="290.33" cy="570.6" r="1.95"/><circle cx="292.96" cy="571.39" r="1.95"/><circle cx="294.8" cy="570.6" r="1.95"/><circle cx="320.55" cy="571.39" r="1.95"/><circle cx="326.33" cy="574.02" r="1.95"/><circle cx="334.21" cy="570.6" r="1.95"/><circle cx="338.42" cy="576.12" r="1.95"/><circle cx="367.32" cy="572.18" r="1.95"/><circle cx="272.73" cy="575.33" r="1.95"/><circle cx="274.57" cy="576.65" r="1.95"/><circle cx="276.41" cy="577.96" r="1.95"/><circle cx="279.82" cy="577.43" r="1.95"/><circle cx="283.24" cy="576.65" r="1.95"/><circle cx="288.49" cy="575.86" r="1.95"/><circle cx="290.33" cy="577.96" r="1.95"/><circle cx="292.96" cy="576.65" r="1.95"/><circle cx="302.16" cy="578.49" r="1.95"/><circle cx="273.25" cy="581.9" r="1.95"/><circle cx="275.88" cy="583.74" r="1.95"/><circle cx="278.51" cy="585.32" r="1.95"/><circle cx="280.61" cy="585.84" r="1.95"/><circle cx="273.25" cy="587.16" r="1.95"/><circle cx="275.36" cy="588.47" r="1.95"/><circle cx="278.51" cy="589" r="1.95"/><circle cx="282.45" cy="587.16" r="1.95"/><circle cx="287.71" cy="586.37" r="1.95"/><circle cx="289.02" cy="588.47" r="1.95"/><circle cx="294.27" cy="584.53" r="1.95"/><circle cx="294.27" cy="590.31" r="1.95"/><circle cx="312.14" cy="585.84" r="1.95"/><circle cx="320.55" cy="585.84" r="1.95"/><circle cx="273.78" cy="591.1" r="1.95"/><circle cx="275.88" cy="590.57" r="1.95"/><circle cx="281.14" cy="591.1" r="1.95"/><circle cx="287.71" cy="592.41" r="1.95"/><circle cx="289.02" cy="593.72" r="1.95"/><circle cx="339.47" cy="591.1" r="1.95"/><circle cx="283.76" cy="596.35" r="1.95"/><circle cx="278.51" cy="600.29" r="1.95"/><circle cx="296.9" cy="597.67" r="1.95"/><circle cx="299.53" cy="595.83" r="1.95"/><circle cx="302.16" cy="597.67" r="1.95"/><circle cx="306.89" cy="599.5" r="1.95"/><circle cx="343.67" cy="598.19" r="1.95"/><circle cx="303.21" cy="590.57" r="1.95"/><circle cx="275.88" cy="606.86" r="1.95"/><circle cx="281.14" cy="606.86" r="1.95"/><circle cx="287.71" cy="608.18" r="1.95"/><circle cx="303.47" cy="606.86" r="1.95"/><circle cx="272.73" cy="601.61" r="1.95"/><circle cx="271.94" cy="605.55" r="1.95"/></g></g>
<g><path d="M504.3 484.7V612.2H668.9" fill="none" stroke="#111" stroke-width="1.3"/><path d="M504.3 612.2v4.7M545.45 612.2v4.7M586.6 612.2v4.7M627.75 612.2v4.7M668.9 612.2v4.7M504.3 612.2h-4.7M504.3 569.7h-4.7M504.3 527.2h-4.7M504.3 484.7h-4.7" stroke="#111" stroke-width="1.3"/><text class="t" transform="translate(504.3 628.5) scale(0.91 1)" font-size="9.97" text-anchor="middle">0</text><text class="t" transform="translate(545.45 628.5) scale(0.91 1)" font-size="9.97" text-anchor="middle">100</text><text class="t" transform="translate(586.6 628.5) scale(0.91 1)" font-size="9.97" text-anchor="middle">200</text><text class="t" transform="translate(627.75 628.5) scale(0.91 1)" font-size="9.97" text-anchor="middle">300</text><text class="t" transform="translate(668.9 628.5) scale(0.91 1)" font-size="9.97" text-anchor="middle">400</text><text class="t" transform="translate(497.65 615.77) scale(0.91 1)" font-size="9.97" text-anchor="end">0.0</text><text class="t" transform="translate(497.65 573.27) scale(0.91 1)" font-size="9.97" text-anchor="end">0.5</text><text class="t" transform="translate(497.65 530.77) scale(0.91 1)" font-size="9.97" text-anchor="end">1.0</text><text class="t" transform="translate(497.65 488.27) scale(0.91 1)" font-size="9.97" text-anchor="end">1.5</text><text class="t" x="586.7" y="644.8" font-size="10.75" text-anchor="middle" textLength="18.8" lengthAdjust="spacingAndGlyphs">ALT</text><text class="t" transform="translate(477.4 549) rotate(-90)" x="0" y="0" font-size="12.7" text-anchor="middle" textLength="79.6" lengthAdjust="spacingAndGlyphs">Gal-3 [ng/mL]</text><text class="s" x="578.8" y="501.7" font-size="9.6" textLength="46.8" lengthAdjust="spacingAndGlyphs">r=-0.04029</text><text class="s" x="578.8" y="512.2" font-size="9.6" textLength="41.5" lengthAdjust="spacingAndGlyphs">P=0.6952</text><line x1="511.82" y1="581.32" x2="664.21" y2="571.33" stroke="#111" stroke-width="1.0"/><g fill="#000"><circle cx="534.68" cy="506.96" r="1.95"/><circle cx="523.65" cy="515.37" r="1.95"/><circle cx="532.84" cy="532.71" r="1.95"/><circle cx="627.69" cy="532.71" r="1.95"/><circle cx="526.27" cy="541.91" r="1.95"/><circle cx="522.33" cy="542.43" r="1.95"/><circle cx="522.33" cy="547.16" r="1.95"/><circle cx="555.7" cy="545.06" r="1.95"/><circle cx="551.5" cy="557.14" r="1.95"/><circle cx="559.91" cy="558.46" r="1.95"/><circle cx="597.21" cy="556.88" r="1.95"/><circle cx="525.75" cy="559.77" r="1.95"/><circle cx="525.75" cy="560.82" r="1.95"/><circle cx="573.04" cy="563.45" r="1.95"/><circle cx="571.47" cy="569.49" r="1.95"/><circle cx="571.47" cy="571.33" r="1.95"/><circle cx="515.76" cy="565.55" r="1.95"/><circle cx="517.08" cy="566.6" r="1.95"/><circle cx="518.39" cy="567.65" r="1.95"/><circle cx="519.71" cy="568.71" r="1.95"/><circle cx="521.02" cy="570.02" r="1.95"/><circle cx="522.33" cy="570.81" r="1.95"/><circle cx="523.65" cy="571.86" r="1.95"/><circle cx="524.96" cy="572.91" r="1.95"/><circle cx="529.43" cy="566.6" r="1.95"/><circle cx="531" cy="568.71" r="1.95"/><circle cx="532.05" cy="569.49" r="1.95"/><circle cx="528.9" cy="572.65" r="1.95"/><circle cx="511.82" cy="577.9" r="1.95"/><circle cx="517.87" cy="575.54" r="1.95"/><circle cx="526.27" cy="577.9" r="1.95"/><circle cx="527.59" cy="579.21" r="1.95"/><circle cx="528.9" cy="580.53" r="1.95"/><circle cx="530.22" cy="581.84" r="1.95"/><circle cx="538.36" cy="577.9" r="1.95"/><circle cx="555.7" cy="578.69" r="1.95"/><circle cx="595.9" cy="580.53" r="1.95"/><circle cx="609.04" cy="582.37" r="1.95"/><circle cx="664.21" cy="604.44" r="1.95"/><circle cx="518.39" cy="581.32" r="1.95"/><circle cx="519.71" cy="583.16" r="1.95"/><circle cx="521.02" cy="584.47" r="1.95"/><circle cx="522.33" cy="585.78" r="1.95"/><circle cx="523.65" cy="581.84" r="1.95"/><circle cx="524.96" cy="583.16" r="1.95"/><circle cx="526.27" cy="584.47" r="1.95"/><circle cx="527.59" cy="585.78" r="1.95"/><circle cx="528.9" cy="583.16" r="1.95"/><circle cx="520.49" cy="588.41" r="1.95"/><circle cx="522.33" cy="589.72" r="1.95"/><circle cx="523.65" cy="587.1" r="1.95"/><circle cx="524.96" cy="591.04" r="1.95"/><circle cx="527.59" cy="588.41" r="1.95"/><circle cx="529.43" cy="590.25" r="1.95"/><circle cx="531.53" cy="588.41" r="1.95"/><circle cx="534.16" cy="589.72" r="1.95"/><circle cx="536.78" cy="588.41" r="1.95"/><circle cx="544.67" cy="587.1" r="1.95"/><circle cx="549.92" cy="585.26" r="1.95"/><circle cx="553.86" cy="589.72" r="1.95"/><circle cx="560.43" cy="587.62" r="1.95"/><circle cx="561.74" cy="585.78" r="1.95"/><circle cx="544.67" cy="592.88" r="1.95"/><circle cx="547.29" cy="592.88" r="1.95"/><circle cx="517.87" cy="594.98" r="1.95"/><circle cx="519.71" cy="595.5" r="1.95"/><circle cx="521.54" cy="594.45" r="1.95"/><circle cx="523.65" cy="596.29" r="1.95"/><circle cx="526.27" cy="593.67" r="1.95"/><circle cx="528.9" cy="594.98" r="1.95"/><circle cx="531.53" cy="595.5" r="1.95"/><circle cx="534.16" cy="593.67" r="1.95"/><circle cx="536.78" cy="597.61" r="1.95"/><circle cx="539.41" cy="594.45" r="1.95"/><circle cx="516.29" cy="602.34" r="1.95"/><circle cx="520.49" cy="600.76" r="1.95"/><circle cx="523.65" cy="601.55" r="1.95"/><circle cx="527.59" cy="601.55" r="1.95"/><circle cx="530.22" cy="602.86" r="1.95"/><circle cx="532.84" cy="605.49" r="1.95"/><circle cx="535.47" cy="604.96" r="1.95"/><circle cx="538.1" cy="600.23" r="1.95"/><circle cx="541.51" cy="602.34" r="1.95"/><circle cx="521.9" cy="583.3" r="1.95"/><circle cx="525.2" cy="584.7" r="1.95"/><circle cx="529.3" cy="585.4" r="1.95"/><circle cx="521.2" cy="586.7" r="1.95"/><circle cx="527.3" cy="588.7" r="1.95"/><circle cx="530.6" cy="590.1" r="1.95"/><circle cx="521.9" cy="591.4" r="1.95"/><circle cx="525.2" cy="592.8" r="1.95"/><circle cx="529.3" cy="595.5" r="1.95"/><circle cx="533.3" cy="592.8" r="1.95"/><circle cx="520.5" cy="596.8" r="1.95"/><circle cx="523.9" cy="598.9" r="1.95"/><circle cx="530.6" cy="598.2" r="1.95"/><circle cx="536.7" cy="590.1" r="1.95"/><circle cx="538.7" cy="598.2" r="1.95"/><circle cx="527.3" cy="600.9" r="1.95"/></g></g>
<g><path d="M39.8 674.4V783.2H226.4" fill="none" stroke="#111" stroke-width="1.3"/><path d="M39.8 783.2v4.7M86.45 783.2v4.7M133.1 783.2v4.7M179.75 783.2v4.7M226.4 783.2v4.7M39.8 783.2h-4.7M39.8 756h-4.7M39.8 728.8h-4.7M39.8 701.6h-4.7M39.8 674.4h-4.7" stroke="#111" stroke-width="1.3"/><text class="t" transform="translate(39.8 796.6) scale(0.95 1)" font-size="8.29" text-anchor="middle">0</text><text class="t" transform="translate(86.45 796.6) scale(0.95 1)" font-size="8.29" text-anchor="middle">50</text><text class="t" transform="translate(133.1 796.6) scale(0.95 1)" font-size="8.29" text-anchor="middle">100</text><text class="t" transform="translate(179.75 796.6) scale(0.95 1)" font-size="8.29" text-anchor="middle">150</text><text class="t" transform="translate(226.4 796.6) scale(0.95 1)" font-size="8.29" text-anchor="middle">200</text><text class="t" transform="translate(34.35 786.17) scale(0.95 1)" font-size="8.29" text-anchor="end">0</text><text class="t" transform="translate(34.35 758.97) scale(0.95 1)" font-size="8.29" text-anchor="end">2000</text><text class="t" transform="translate(34.35 731.77) scale(0.95 1)" font-size="8.29" text-anchor="end">4000</text><text class="t" transform="translate(34.35 704.57) scale(0.95 1)" font-size="8.29" text-anchor="end">6000</text><text class="t" transform="translate(34.35 677.37) scale(0.95 1)" font-size="8.29" text-anchor="end">8000</text><text class="t" x="133" y="810" font-size="9.6" text-anchor="middle" textLength="66.3" lengthAdjust="spacingAndGlyphs">sPD-1 [pg/ml]</text><text class="t" transform="translate(9.66 728.6) rotate(-90)" x="0" y="0" font-size="10.5" text-anchor="middle" textLength="69.6" lengthAdjust="spacingAndGlyphs">sTIM-3 [pg/ml]</text><text class="s" x="155" y="682.1" font-size="9" textLength="35.3" lengthAdjust="spacingAndGlyphs">r=0.1360</text><text class="s" x="154" y="696.9" font-size="9" textLength="37.6" lengthAdjust="spacingAndGlyphs">P=0.1840</text><line x1="47.82" y1="758.54" x2="191.54" y2="739.88" stroke="#111" stroke-width="1.2"/><g fill="#000"><circle cx="102.47" cy="704.94" r="1.95"/><circle cx="191.54" cy="706.51" r="1.95"/><circle cx="112.2" cy="726.74" r="1.95"/><circle cx="72.78" cy="728.58" r="1.95"/><circle cx="93.8" cy="733.84" r="1.95"/><circle cx="89.86" cy="736.47" r="1.95"/><circle cx="93.28" cy="738.57" r="1.95"/><circle cx="103.52" cy="735.42" r="1.95"/><circle cx="59.65" cy="739.36" r="1.95"/><circle cx="68.84" cy="739.88" r="1.95"/><circle cx="65.43" cy="743.3" r="1.95"/><circle cx="74.1" cy="743.3" r="1.95"/><circle cx="119.55" cy="743.3" r="1.95"/><circle cx="122.71" cy="743.3" r="1.95"/><circle cx="57.02" cy="745.14" r="1.95"/><circle cx="53.87" cy="748.55" r="1.95"/><circle cx="63.59" cy="748.55" r="1.95"/><circle cx="67" cy="747.76" r="1.95"/><circle cx="70.16" cy="748.55" r="1.95"/><circle cx="72.78" cy="750.39" r="1.95"/><circle cx="87.23" cy="745.92" r="1.95"/><circle cx="87.76" cy="748.55" r="1.95"/><circle cx="85.92" cy="751.71" r="1.95"/><circle cx="97.74" cy="754.86" r="1.95"/><circle cx="110.09" cy="753.54" r="1.95"/><circle cx="75.41" cy="751.71" r="1.95"/><circle cx="78.04" cy="753.02" r="1.95"/><circle cx="80.67" cy="753.81" r="1.95"/><circle cx="50.45" cy="754.33" r="1.95"/><circle cx="51.76" cy="756.43" r="1.95"/><circle cx="54.39" cy="755.65" r="1.95"/><circle cx="57.02" cy="754.33" r="1.95"/><circle cx="59.65" cy="753.81" r="1.95"/><circle cx="62.27" cy="755.65" r="1.95"/><circle cx="64.9" cy="756.96" r="1.95"/><circle cx="67.53" cy="755.65" r="1.95"/><circle cx="47.82" cy="756.96" r="1.95"/><circle cx="49.14" cy="759.59" r="1.95"/><circle cx="52.29" cy="757.49" r="1.95"/><circle cx="55.71" cy="758.27" r="1.95"/><circle cx="58.33" cy="759.06" r="1.95"/><circle cx="60.96" cy="757.49" r="1.95"/><circle cx="63.59" cy="759.59" r="1.95"/><circle cx="66.22" cy="758.27" r="1.95"/><circle cx="70.16" cy="756.96" r="1.95"/><circle cx="72.78" cy="758.27" r="1.95"/><circle cx="75.41" cy="758.27" r="1.95"/><circle cx="79.35" cy="757.49" r="1.95"/><circle cx="82.77" cy="758.27" r="1.95"/><circle cx="88.55" cy="755.65" r="1.95"/><circle cx="91.18" cy="756.43" r="1.95"/><circle cx="92.49" cy="759.59" r="1.95"/><circle cx="47.82" cy="762.74" r="1.95"/><circle cx="50.45" cy="763.53" r="1.95"/><circle cx="53.08" cy="762.21" r="1.95"/><circle cx="55.71" cy="764.84" r="1.95"/><circle cx="58.33" cy="762.74" r="1.95"/><circle cx="60.96" cy="762.21" r="1.95"/><circle cx="64.9" cy="764.32" r="1.95"/><circle cx="68.84" cy="762.74" r="1.95"/><circle cx="71.47" cy="761.69" r="1.95"/><circle cx="74.1" cy="760.9" r="1.95"/><circle cx="79.35" cy="761.69" r="1.95"/><circle cx="85.92" cy="763.53" r="1.95"/><circle cx="89.86" cy="762.74" r="1.95"/><circle cx="99.85" cy="762.21" r="1.95"/><circle cx="105.1" cy="760.9" r="1.95"/><circle cx="137.94" cy="763" r="1.95"/><circle cx="151.08" cy="763" r="1.95"/><circle cx="47.82" cy="766.94" r="1.95"/><circle cx="51.76" cy="766.16" r="1.95"/><circle cx="54.39" cy="765.37" r="1.95"/><circle cx="57.02" cy="767.47" r="1.95"/><circle cx="60.96" cy="768.78" r="1.95"/><circle cx="64.9" cy="766.16" r="1.95"/><circle cx="67.53" cy="764.32" r="1.95"/><circle cx="72.78" cy="767.47" r="1.95"/><circle cx="74.1" cy="768" r="1.95"/><circle cx="80.67" cy="766.16" r="1.95"/><circle cx="84.61" cy="768.78" r="1.95"/><circle cx="93.8" cy="765.63" r="1.95"/><circle cx="51.76" cy="771.41" r="1.95"/><circle cx="91.96" cy="772.2" r="1.95"/><circle cx="91.7" cy="774.04" r="1.95"/><circle cx="162.9" cy="776.14" r="1.95"/><circle cx="87.23" cy="778.77" r="1.95"/><circle cx="64.11" cy="781.13" r="1.95"/></g></g>
<g><path d="M278.9 662.6V780.4H456.6" fill="none" stroke="#111" stroke-width="1.3"/><path d="M278.9 780.4v4.7M323.33 780.4v4.7M367.76 780.4v4.7M412.19 780.4v4.7M456.62 780.4v4.7M278.9 780.2h-4.7M278.9 741h-4.7M278.9 701.8h-4.7M278.9 662.6h-4.7" stroke="#111" stroke-width="1.3"/><text class="t" transform="translate(278.9 795.7) scale(0.93 1)" font-size="9.35" text-anchor="middle">0</text><text class="t" transform="translate(323.33 795.7) scale(0.93 1)" font-size="9.35" text-anchor="middle">50</text><text class="t" transform="translate(367.76 795.7) scale(0.93 1)" font-size="9.35" text-anchor="middle">100</text><text class="t" transform="translate(412.19 795.7) scale(0.93 1)" font-size="9.35" text-anchor="middle">150</text><text class="t" transform="translate(456.62 795.7) scale(0.93 1)" font-size="9.35" text-anchor="middle">200</text><text class="t" transform="translate(271.95 783.55) scale(0.93 1)" font-size="9.35" text-anchor="end">0</text><text class="t" transform="translate(271.95 744.35) scale(0.93 1)" font-size="9.35" text-anchor="end">5000</text><text class="t" transform="translate(271.95 705.15) scale(0.93 1)" font-size="9.35" text-anchor="end">10000</text><text class="t" transform="translate(271.95 665.95) scale(0.93 1)" font-size="9.35" text-anchor="end">15000</text><text class="t" x="367.1" y="811.8" font-size="10.6" text-anchor="middle" textLength="69.4" lengthAdjust="spacingAndGlyphs">sPD-1 [pg/ml]</text><text class="t" transform="translate(241.4 721.8) rotate(-90)" x="0" y="0" font-size="12.9" text-anchor="middle" textLength="93.2" lengthAdjust="spacingAndGlyphs">sLAG-3 [pg/mL]</text><text class="s" x="376.8" y="682.9" font-size="9.9" textLength="37.2" lengthAdjust="spacingAndGlyphs">r=0.3542</text><text class="s" x="376.9" y="699.4" font-size="9.9" textLength="39.9" lengthAdjust="spacingAndGlyphs">P=0.0004</text><line x1="285.1" y1="774.84" x2="422.4" y2="762.64" stroke="#111" stroke-width="1.2"/><g fill="#000"><circle cx="333.64" cy="702.44" r="2.3"/><circle cx="329.48" cy="757.64" r="2.3"/><circle cx="292.03" cy="761.8" r="2.3"/><circle cx="301.74" cy="760.69" r="2.3"/><circle cx="305.07" cy="761.25" r="2.3"/><circle cx="311.45" cy="761.8" r="2.3"/><circle cx="318.38" cy="763.19" r="2.3"/><circle cx="339.19" cy="762.64" r="2.3"/><circle cx="357.22" cy="764.85" r="2.3"/><circle cx="395.5" cy="764.58" r="2.3"/><circle cx="422.4" cy="766.8" r="2.3"/><circle cx="346.12" cy="767.63" r="2.3"/><circle cx="338.36" cy="766.8" r="2.3"/><circle cx="323.93" cy="766.8" r="2.3"/><circle cx="328.09" cy="767.63" r="2.3"/><circle cx="315.61" cy="767.63" r="2.3"/><circle cx="308.67" cy="767.63" r="2.3"/><circle cx="286.48" cy="774.29" r="2.3"/><circle cx="289.26" cy="775.12" r="2.3"/><circle cx="292.03" cy="773.18" r="2.3"/><circle cx="294.8" cy="772.34" r="2.3"/><circle cx="297.58" cy="770.4" r="2.3"/><circle cx="300.35" cy="770.96" r="2.3"/><circle cx="303.13" cy="771.51" r="2.3"/><circle cx="305.9" cy="772.34" r="2.3"/><circle cx="308.67" cy="770.96" r="2.3"/><circle cx="311.45" cy="770.4" r="2.3"/><circle cx="314.22" cy="769.57" r="2.3"/><circle cx="317" cy="770.96" r="2.3"/><circle cx="319.77" cy="771.51" r="2.3"/><circle cx="322.54" cy="772.34" r="2.3"/><circle cx="325.32" cy="770.96" r="2.3"/><circle cx="328.09" cy="769.57" r="2.3"/><circle cx="286.48" cy="776.5" r="2.3"/><circle cx="289.26" cy="775.95" r="2.3"/><circle cx="293.42" cy="776.5" r="2.3"/><circle cx="296.19" cy="775.12" r="2.3"/><circle cx="298.97" cy="775.95" r="2.3"/><circle cx="301.74" cy="775.12" r="2.3"/><circle cx="304.51" cy="776.5" r="2.3"/><circle cx="307.29" cy="775.95" r="2.3"/><circle cx="310.06" cy="775.12" r="2.3"/><circle cx="312.83" cy="776.5" r="2.3"/><circle cx="317" cy="776.5" r="2.3"/><circle cx="321.16" cy="775.95" r="2.3"/><circle cx="325.32" cy="775.95" r="2.3"/><circle cx="328.09" cy="774.29" r="2.3"/><circle cx="336.41" cy="775.12" r="2.3"/><circle cx="340.57" cy="776.5" r="2.3"/><circle cx="353.61" cy="773.73" r="2.3"/><circle cx="371.64" cy="777.34" r="2.3"/><circle cx="384.4" cy="775.12" r="2.3"/><circle cx="294.8" cy="778.72" r="2.3"/><circle cx="300.35" cy="778.72" r="2.3"/><circle cx="311.45" cy="778.72" r="2.3"/><circle cx="318.38" cy="777.89" r="2.3"/><circle cx="293.1" cy="772.5" r="2.3"/><circle cx="296.6" cy="769.9" r="2.3"/><circle cx="300.1" cy="769" r="2.3"/><circle cx="302.8" cy="771.6" r="2.3"/><circle cx="298.4" cy="775.1" r="2.3"/><circle cx="294.9" cy="776.9" r="2.3"/><circle cx="301.9" cy="776.9" r="2.3"/><circle cx="305.4" cy="774.3" r="2.3"/><circle cx="308" cy="776.9" r="2.3"/><circle cx="309.8" cy="772.5" r="2.3"/><circle cx="312.4" cy="776" r="2.3"/><circle cx="315.9" cy="772.5" r="2.3"/><circle cx="318.5" cy="776.9" r="2.3"/><circle cx="321.2" cy="773.4" r="2.3"/><circle cx="323.8" cy="776" r="2.3"/><circle cx="325.5" cy="772.5" r="2.3"/><circle cx="329" cy="773.4" r="2.3"/><circle cx="322" cy="768.1" r="2.3"/><circle cx="315" cy="767.3" r="2.3"/></g></g>
<g><path d="M505.4 665.8V779.5H676" fill="none" stroke="#111" stroke-width="1.3"/><path d="M505.4 779.5v4.7M548.2 779.5v4.7M591 779.5v4.7M633.8 779.5v4.7M676.6 779.5v4.7M505.4 779.5h-4.7M505.4 741.6h-4.7M505.4 703.7h-4.7M505.4 665.8h-4.7" stroke="#111" stroke-width="1.3"/><text class="t" transform="translate(505.4 794.1) scale(0.91 1)" font-size="9.13" text-anchor="middle">0</text><text class="t" transform="translate(548.2 794.1) scale(0.91 1)" font-size="9.13" text-anchor="middle">2000</text><text class="t" transform="translate(591 794.1) scale(0.91 1)" font-size="9.13" text-anchor="middle">4000</text><text class="t" transform="translate(633.8 794.1) scale(0.91 1)" font-size="9.13" text-anchor="middle">6000</text><text class="t" transform="translate(676.6 794.1) scale(0.91 1)" font-size="9.13" text-anchor="middle">8000</text><text class="t" transform="translate(498.65 782.77) scale(0.91 1)" font-size="9.13" text-anchor="end">0</text><text class="t" transform="translate(498.65 744.87) scale(0.91 1)" font-size="9.13" text-anchor="end">5000</text><text class="t" transform="translate(498.65 706.97) scale(0.91 1)" font-size="9.13" text-anchor="end">10000</text><text class="t" transform="translate(498.65 669.07) scale(0.91 1)" font-size="9.13" text-anchor="end">15000</text><text class="t" x="590.3" y="809.6" font-size="12.4" text-anchor="middle" textLength="86.1" lengthAdjust="spacingAndGlyphs">sTIM-3 [pg/mL]</text><text class="t" transform="translate(469.3 722.5) rotate(-90)" x="0" y="0" font-size="12.7" text-anchor="middle" textLength="90.6" lengthAdjust="spacingAndGlyphs">sLAG-3 [pg/mL]</text><text class="s" x="609.8" y="685.7" font-size="9.8" textLength="35.5" lengthAdjust="spacingAndGlyphs">r=0.3089</text><text class="s" x="609.8" y="701.5" font-size="9.8" textLength="38.1" lengthAdjust="spacingAndGlyphs">P=0.0021</text><line x1="507.88" y1="773.5" x2="628.74" y2="765.1" stroke="#111" stroke-width="1.2"/><g fill="#000"><circle cx="549.4" cy="704.14" r="2.3"/><circle cx="583.55" cy="757.74" r="2.3"/><circle cx="580.14" cy="762.47" r="2.3"/><circle cx="567" cy="761.16" r="2.3"/><circle cx="560.43" cy="761.16" r="2.3"/><circle cx="551.23" cy="761.16" r="2.3"/><circle cx="544.67" cy="760.63" r="2.3"/><circle cx="542.56" cy="763" r="2.3"/><circle cx="515.76" cy="764.31" r="2.3"/><circle cx="523.12" cy="766.41" r="2.3"/><circle cx="507.88" cy="769.04" r="2.3"/><circle cx="511.82" cy="774.29" r="2.3"/><circle cx="593.27" cy="766.41" r="2.3"/><circle cx="626.12" cy="766.41" r="2.3"/><circle cx="628.74" cy="766.41" r="2.3"/><circle cx="590.65" cy="772.98" r="2.3"/><circle cx="576.2" cy="772.98" r="2.3"/><circle cx="577.51" cy="775.61" r="2.3"/><circle cx="526.27" cy="772.98" r="2.3"/><circle cx="528.38" cy="775.61" r="2.3"/><circle cx="530.22" cy="774.29" r="2.3"/><circle cx="532.84" cy="773.5" r="2.3"/><circle cx="535.47" cy="770.35" r="2.3"/><circle cx="536.78" cy="769.04" r="2.3"/><circle cx="538.1" cy="771.67" r="2.3"/><circle cx="539.41" cy="774.29" r="2.3"/><circle cx="540.73" cy="775.61" r="2.3"/><circle cx="542.04" cy="770.35" r="2.3"/><circle cx="543.35" cy="772.98" r="2.3"/><circle cx="544.67" cy="775.61" r="2.3"/><circle cx="545.98" cy="771.67" r="2.3"/><circle cx="547.29" cy="767.72" r="2.3"/><circle cx="548.61" cy="766.41" r="2.3"/><circle cx="549.92" cy="769.04" r="2.3"/><circle cx="551.23" cy="771.67" r="2.3"/><circle cx="552.55" cy="775.61" r="2.3"/><circle cx="553.86" cy="772.98" r="2.3"/><circle cx="555.18" cy="770.35" r="2.3"/><circle cx="556.49" cy="767.72" r="2.3"/><circle cx="557.8" cy="775.61" r="2.3"/><circle cx="559.12" cy="772.98" r="2.3"/><circle cx="560.43" cy="774.29" r="2.3"/><circle cx="563.06" cy="771.67" r="2.3"/><circle cx="564.37" cy="770.35" r="2.3"/><circle cx="565.69" cy="765.1" r="2.3"/><circle cx="567" cy="771.67" r="2.3"/><circle cx="568.31" cy="772.98" r="2.3"/><circle cx="570.94" cy="772.45" r="2.3"/><circle cx="573.57" cy="771.67" r="2.3"/><circle cx="531.53" cy="776.92" r="2.3"/><circle cx="536.78" cy="776.4" r="2.3"/><circle cx="547.29" cy="776.92" r="2.3"/><circle cx="555.18" cy="776.92" r="2.3"/><circle cx="519.71" cy="771.67" r="2.3"/><circle cx="517.08" cy="773.5" r="2.3"/><circle cx="528.4" cy="774.9" r="2.3"/><circle cx="531.9" cy="773.7" r="2.3"/><circle cx="535.4" cy="772.5" r="2.3"/><circle cx="537.7" cy="775.4" r="2.3"/><circle cx="540" cy="773.7" r="2.3"/><circle cx="543.6" cy="772.5" r="2.3"/><circle cx="545.9" cy="775.4" r="2.3"/><circle cx="549.4" cy="773.7" r="2.3"/><circle cx="551.7" cy="771.4" r="2.3"/><circle cx="554.1" cy="774.3" r="2.3"/><circle cx="557.6" cy="773.1" r="2.3"/><circle cx="561.1" cy="772.5" r="2.3"/><circle cx="563.4" cy="774.3" r="2.3"/><circle cx="566.9" cy="771.9" r="2.3"/><circle cx="568.1" cy="773.7" r="2.3"/><circle cx="531.9" cy="777.2" r="2.3"/><circle cx="538.9" cy="777.2" r="2.3"/><circle cx="545.9" cy="777.2" r="2.3"/><circle cx="552.9" cy="776.6" r="2.3"/><circle cx="558.7" cy="776" r="2.3"/><circle cx="549.4" cy="767.9" r="2.3"/><circle cx="543.6" cy="769" r="2.3"/><circle cx="536.5" cy="769" r="2.3"/></g></g>
</svg></body></html>
